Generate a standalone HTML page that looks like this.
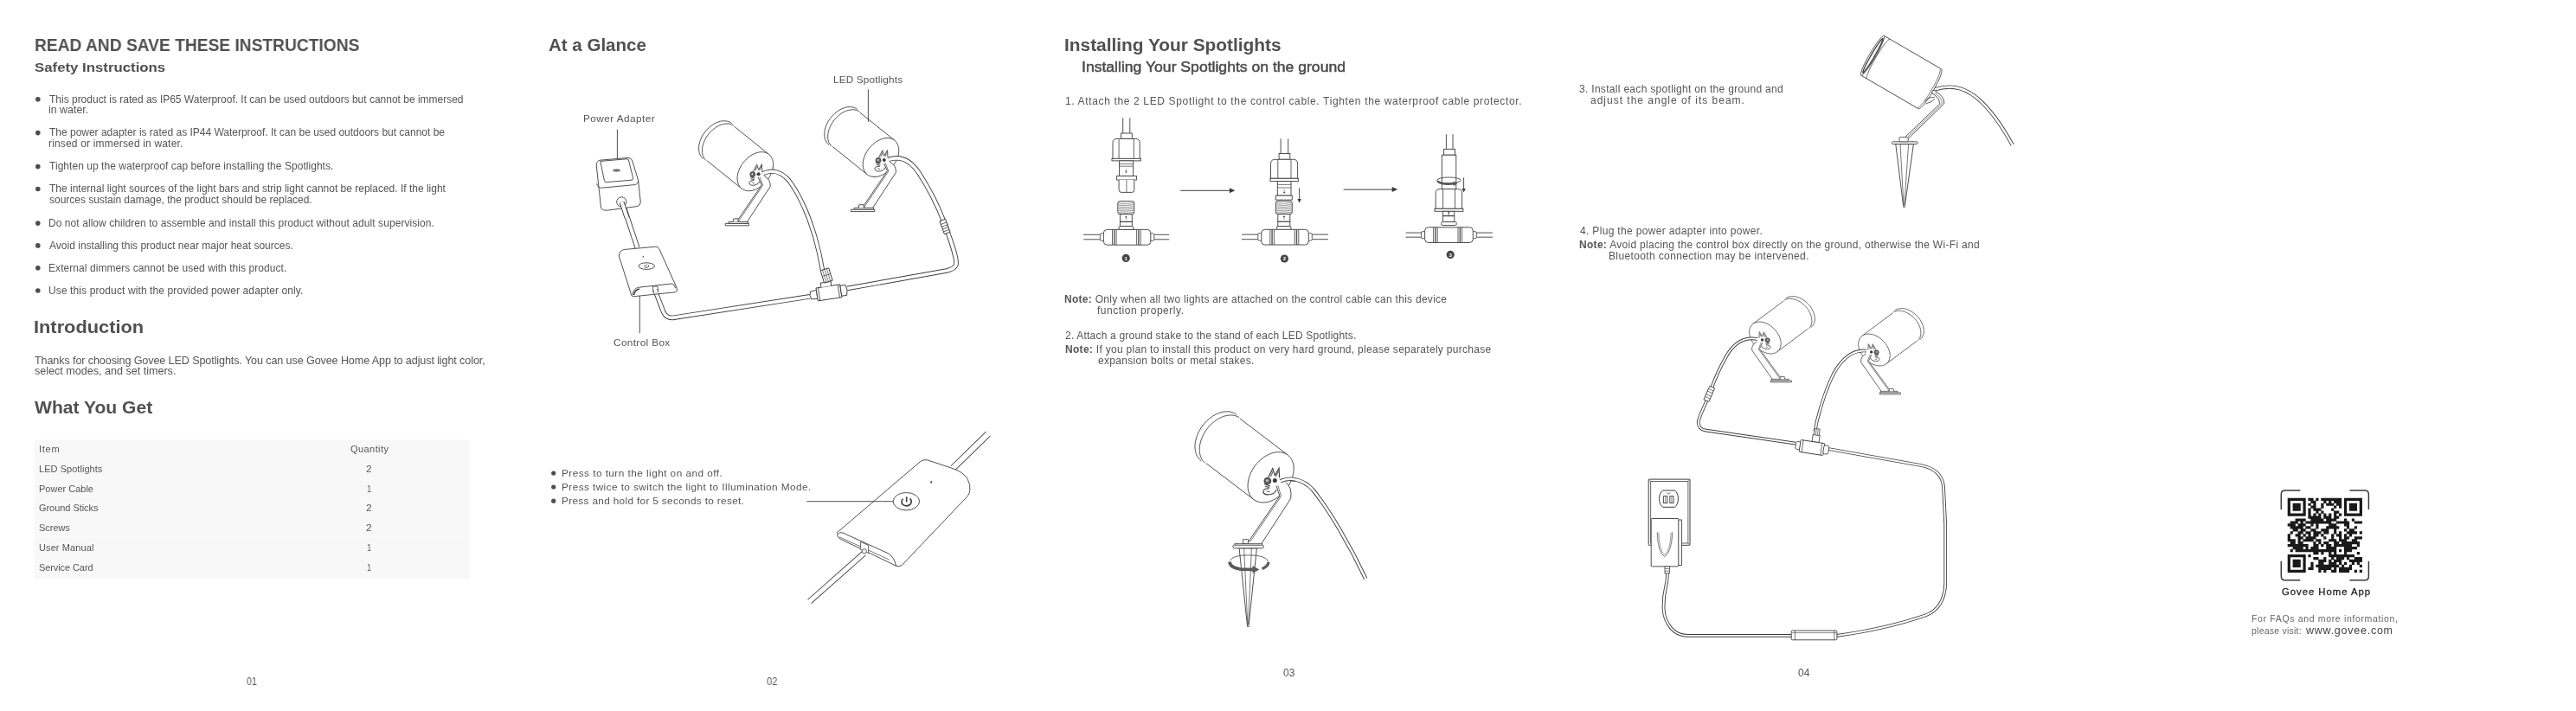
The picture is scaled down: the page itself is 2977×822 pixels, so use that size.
<!DOCTYPE html>
<html><head><meta charset="utf-8"><style>
html,body{margin:0;padding:0;background:#fff;}
body{width:2977px;height:822px;position:relative;overflow:hidden;font-family:"Liberation Sans", sans-serif;}
.t{position:absolute;white-space:nowrap;line-height:0;will-change:transform;}
.t b{font-weight:700;}
#p3h2{-webkit-text-stroke:0.45px currentColor;}#qr1{-webkit-text-stroke:0.3px currentColor;}
svg{position:absolute;left:0;top:0;}
</style></head><body>

<svg width="2977" height="822" viewBox="0 0 2977 822"><circle cx="43.8" cy="114.8" r="2.8" fill="#4d4d4d"/><circle cx="43.8" cy="153.6" r="2.8" fill="#4d4d4d"/><circle cx="43.8" cy="192.6" r="2.8" fill="#4d4d4d"/><circle cx="43.8" cy="218.5" r="2.8" fill="#4d4d4d"/><circle cx="43.8" cy="258.1" r="2.8" fill="#4d4d4d"/><circle cx="43.8" cy="283.9" r="2.8" fill="#4d4d4d"/><circle cx="43.8" cy="309.8" r="2.8" fill="#4d4d4d"/><circle cx="43.8" cy="336.0" r="2.8" fill="#4d4d4d"/><rect x="39.6" y="508.4" width="503.0" height="160.6" rx="2" fill="#f8f8f8"/><rect x="39.6" y="529.4" width="503" height="1.0" fill="#fbfbfb"/><rect x="39.6" y="552.2" width="503" height="1.0" fill="#fbfbfb"/><rect x="39.6" y="574.9" width="503" height="1.0" fill="#fbfbfb"/><rect x="39.6" y="597.3" width="503" height="1.0" fill="#fbfbfb"/><rect x="39.6" y="620.3" width="503" height="1.0" fill="#fbfbfb"/><rect x="39.6" y="642.8" width="503" height="1.0" fill="#fbfbfb"/><g id="spA"><path d="M845.6,142.6 L844.5,141.8 L843.3,141.1 L841.9,140.6 L840.5,140.2 L839.0,139.9 L837.5,139.8 L835.9,139.8 L834.3,139.9 L832.6,140.2 L830.9,140.7 L829.3,141.3 L827.6,142.0 L825.9,142.8 L824.2,143.8 L822.6,144.9 L821.0,146.1 L819.4,147.4 L818.0,148.8 L816.5,150.3 L815.2,151.9 L814.0,153.5 L812.8,155.2 L811.7,157.0 L810.8,158.8 L810.0,160.6 L809.2,162.4 L808.7,164.3 L808.2,166.1 L807.8,167.9 L807.6,169.7 L807.6,171.4 L807.6,173.1 L807.8,174.7 L808.1,176.3 L808.6,177.8 L809.2,179.1 L809.9,180.4 L810.7,181.6 L811.6,182.7 L812.7,183.6 L856.9,217.9 L856.9,217.9 L858.0,218.7 L859.2,219.4 L860.5,219.9 L861.9,220.3 L863.3,220.5 L864.8,220.7 L866.3,220.6 L867.9,220.5 L869.5,220.2 L871.1,219.8 L872.7,219.2 L874.3,218.5 L875.9,217.7 L877.5,216.8 L879.1,215.7 L880.6,214.5 L882.1,213.3 L883.6,211.9 L884.9,210.5 L886.2,209.0 L887.4,207.4 L888.5,205.8 L889.5,204.1 L890.4,202.4 L891.3,200.6 L891.9,198.9 L892.5,197.1 L893.0,195.3 L893.3,193.6 L893.5,191.9 L893.6,190.2 L893.5,188.6 L893.3,187.0 L893.0,185.5 L892.6,184.1 L892.0,182.8 L891.3,181.5 L890.6,180.4 L889.7,179.4 L888.7,178.5 L848.5,146.2Z" fill="#fff" stroke="none" stroke-width="0.9" /><path d="M845.6,142.6 L844.5,141.8 L843.3,141.1 L841.9,140.6 L840.5,140.2 L839.0,139.9 L837.5,139.8 L835.9,139.8 L834.3,139.9 L832.6,140.2 L830.9,140.7 L829.3,141.3 L827.6,142.0 L825.9,142.8 L824.2,143.8 L822.6,144.9 L821.0,146.1 L819.4,147.4 L818.0,148.8 L816.5,150.3 L815.2,151.9 L814.0,153.5 L812.8,155.2 L811.7,157.0 L810.8,158.8 L810.0,160.6 L809.2,162.4 L808.7,164.3 L808.2,166.1 L807.8,167.9 L807.6,169.7 L807.6,171.4 L807.6,173.1 L807.8,174.7 L808.1,176.3 L808.6,177.8 L809.2,179.1 L809.9,180.4 L810.7,181.6 L811.6,182.7 L812.7,183.6" fill="none" stroke="#3c3c3c" stroke-width="0.9" /><path d="M847.9,145.2 L846.8,144.5 L845.6,143.9 L844.3,143.5 L842.9,143.2 L841.5,143.0 L840.0,143.0 L838.5,143.1 L836.9,143.3 L835.3,143.7 L833.7,144.1 L832.1,144.7 L830.5,145.4 L829.0,146.3 L827.4,147.2 L825.9,148.3 L824.4,149.4 L822.9,150.7 L821.5,152.0 L820.2,153.4 L818.9,154.9 L817.8,156.4 L816.7,158.0 L815.7,159.7 L814.8,161.4 L814.0,163.1 L813.3,164.8 L812.7,166.5 L812.2,168.3 L811.8,170.0 L811.6,171.7 L811.5,173.3 L811.5,174.9 L811.6,176.5 L811.8,178.0 L812.2,179.4 L812.7,180.8 L813.3,182.1 L814.0,183.2 L814.8,184.3 L815.7,185.3" fill="none" stroke="#3c3c3c" stroke-width="0.9" /><path d="M848.5,146.2 L888.7,178.5" fill="none" stroke="#3c3c3c" stroke-width="0.9" /><path d="M816.8,185.6 L856.9,217.9" fill="none" stroke="#3c3c3c" stroke-width="0.9" /><path d="M856.9,217.9 L858.4,218.9 L860.1,219.7 L861.9,220.3 L863.8,220.6 L865.8,220.7 L867.9,220.5 L870.0,220.1 L872.2,219.4 L874.3,218.5 L876.5,217.4 L878.6,216.1 L880.6,214.5 L882.6,212.8 L884.5,211.0 L886.2,209.0 L887.8,206.9 L889.2,204.6 L890.4,202.4 L891.5,200.0 L892.3,197.7 L893.0,195.3 L893.4,193.0 L893.6,190.8 L893.5,188.6 L893.2,186.5 L892.7,184.6 L892.0,182.8 L891.1,181.2 L890.0,179.7 L888.7,178.5 L887.2,177.5 L885.5,176.7 L883.7,176.1 L881.8,175.8 L879.8,175.7 L877.7,175.9 L875.6,176.3 L873.4,177.0 L871.3,177.9 L869.1,179.0 L867.0,180.3 L865.0,181.9 L863.0,183.6 L861.1,185.4 L859.4,187.4 L857.8,189.5 L856.4,191.8 L855.2,194.0 L854.1,196.4 L853.3,198.7 L852.6,201.1 L852.2,203.4 L852.0,205.6 L852.1,207.8 L852.4,209.9 L852.9,211.8 L853.6,213.6 L854.5,215.2 L855.6,216.7 L856.9,217.9Z" fill="#fff" stroke="#3c3c3c" stroke-width="0.9" /><path d="M876.3,205.0 L880.2,214.0 L850.6,257.4 L862.6,257.8 L890.2,215.6 Q890.8,207.5 883.4,203.6 Z" fill="#fff" stroke="none" stroke-width="0.9" /><path d="M883.4,203.6 Q890.8,207.5 890.2,215.6 L862.6,257.8" fill="none" stroke="#3c3c3c" stroke-width="0.9" /><path d="M876.3,205.0 L880.2,214.0 L850.6,257.4" fill="none" stroke="#3c3c3c" stroke-width="0.9" /><path d="M878.0,204.6 L881.6,214.2 L852.4,257.4" fill="none" stroke="#3c3c3c" stroke-width="0.7" /><path d="M838.2,258.4 L865.6,258.4 L865.6,260.8 L838.2,260.8 Z" fill="#fff" stroke="#3c3c3c" stroke-width="0.9" /><path d="M842.0,256.5 L864.4,256.5 L864.4,258.4 L842.0,258.4 Z" fill="#fff" stroke="#3c3c3c" stroke-width="0.9" /><path d="M847.0,256.5 L847.6,253.0 L852.6,252.8 L853.4,256.5" fill="#fff" stroke="#3c3c3c" stroke-width="0.9" /><path d="M870.6,198.0 L874.6,190.0 L876.6,196.4 L880.4,189.8 L880.8,198.6" fill="none" stroke="#3c3c3c" stroke-width="0.9" /><path d="M872.6,197.6 L875.0,192.4 M877.6,197.0 L880.0,192.2" fill="none" stroke="#777" stroke-width="1.2" /><circle cx="869.8" cy="201.6" r="3.0" fill="#666" stroke="#3c3c3c" stroke-width="0.9"/><circle cx="869.4" cy="201.2" r="1.0" fill="#ddd"/><path d="M866.8,204.4 L872.4,206.4 M867.6,206.6 L871.6,207.6" fill="none" stroke="#3c3c3c" stroke-width="0.9" /><circle cx="876.6" cy="201.2" r="2.0" fill="#3c3c3c"/><path d="M871.6,208.6 Q865.6,208.2 865.8,212.0 Q866.8,215.0 872.6,214.0 Q877.0,212.8 878.0,209.6" fill="none" stroke="#3c3c3c" stroke-width="0.9" /><path d="M868.6,210.2 Q869.6,212.4 872.0,211.6" fill="none" stroke="#3c3c3c" stroke-width="0.7" /></g><use href="#spA" transform="translate(145.2,-16.2)"/><path d="M713.4,149.7 L713.4,187.4" fill="none" stroke="#3c3c3c" stroke-width="0.9" /><path d="M1003.4,103.4 L1003.4,141.0" fill="none" stroke="#3c3c3c" stroke-width="0.9" /><path d="M739.3,337.9 L739.3,385.1" fill="none" stroke="#3c3c3c" stroke-width="0.9" /><path d="M881.8,200.6 C892,196 903,198 912,209 C925,226 939,258 946.5,292 L950.5,312" fill="none" stroke="#3c3c3c" stroke-width="5.300000000000001" stroke-linecap="butt" stroke-linejoin="round"/><path d="M881.8,200.6 C892,196 903,198 912,209 C925,226 939,258 946.5,292 L950.5,312" fill="none" stroke="#fff" stroke-width="3.5000000000000004" stroke-linecap="butt" stroke-linejoin="round"/><path d="M1027.0,184.4 C1040,180 1052,185 1062,200 C1075,220 1087,245 1094,265 C1100,282 1106,298 1105,306 Q1103,311 1094,313 L979,333.5" fill="none" stroke="#3c3c3c" stroke-width="5.5" stroke-linecap="butt" stroke-linejoin="round"/><path d="M1027.0,184.4 C1040,180 1052,185 1062,200 C1075,220 1087,245 1094,265 C1100,282 1106,298 1105,306 Q1103,311 1094,313 L979,333.5" fill="none" stroke="#fff" stroke-width="3.6999999999999997" stroke-linecap="butt" stroke-linejoin="round"/><path d="M757.2,336.0 L766.8,361.0 Q770.5,368.5 779,367.2 L936,342.8" fill="none" stroke="#3c3c3c" stroke-width="5.5" stroke-linecap="butt" stroke-linejoin="round"/><path d="M757.2,336.0 L766.8,361.0 Q770.5,368.5 779,367.2 L936,342.8" fill="none" stroke="#fff" stroke-width="3.6999999999999997" stroke-linecap="butt" stroke-linejoin="round"/><path d="M719.8,236.0 L736.6,286.5" fill="none" stroke="#3c3c3c" stroke-width="5.9" stroke-linecap="butt" stroke-linejoin="round"/><path d="M719.8,236.0 L736.6,286.5" fill="none" stroke="#fff" stroke-width="4.1" stroke-linecap="butt" stroke-linejoin="round"/><g transform="rotate(70,1092,262)"><path d="M1084,258.5 L1100,258.5 L1100,265.5 L1084,265.5 Z" fill="#fff" stroke="#3c3c3c" stroke-width="0.9" /><path d="M1088,258.5 L1088,265.5 M1091,258 L1091,266 M1094,258 L1094,266 M1097,258.5 L1097,265.5" fill="none" stroke="#3c3c3c" stroke-width="0.7" /></g><g transform="rotate(-8.6,957,338.5)"><path d="M937,334 Q934.5,338.5 937,343 L944,343.5 L944,333.5 Z" fill="#fff" stroke="#3c3c3c" stroke-width="0.9" /><path d="M944,331 L972,331 L972,346 L944,346 Z" fill="#fff" stroke="#3c3c3c" stroke-width="0.9" /><path d="M946.5,331 L946.5,346 M969.5,331 L969.5,346" fill="none" stroke="#3c3c3c" stroke-width="0.8" /><path d="M972,332.5 L978,332.5 Q980.5,338.5 978,344.5 L972,344.5 Z" fill="#fff" stroke="#3c3c3c" stroke-width="0.9" /><path d="M950,331 L950,326 L962,326 L962,331" fill="#fff" stroke="#3c3c3c" stroke-width="0.9" /></g><g transform="rotate(-17,955,318)"><path d="M950,311 L960,311 L960,326 L950,326 Z" fill="#fff" stroke="#3c3c3c" stroke-width="0.9" /><path d="M952.5,311 L952.5,326 M955,311 L955,326 M957.5,311 L957.5,326 M950,318 L960,318" fill="none" stroke="#3c3c3c" stroke-width="0.6" /></g><path d="M689.2,191 Q689.5,186 693.5,185.2 L726.1,182.4 Q729.8,182.6 730.8,186 L737.6,208.5 L740.3,233.8 Q740,237.6 736.3,238.6 L702.5,243.1 Q696.2,243.6 694.6,240.5 Z" fill="#fff" stroke="#3c3c3c" stroke-width="0.9" /><path d="M689.6,212.2 Q690.6,217.4 695.5,217.2 L733.5,213.6 Q737.8,212.6 737.6,208.5" fill="none" stroke="#3c3c3c" stroke-width="0.9" /><path d="M693.8,186.4 L698.4,208.6 Q698.8,210.8 701.2,210.6 L730.0,208.2 Q732.0,207.8 731.6,205.6 L726.4,185.0 Q725.8,183.6 724.0,183.8 Z" fill="none" stroke="#3c3c3c" stroke-width="0.9" /><ellipse cx="712.6" cy="197.0" rx="4.4" ry="1.7" fill="#777"/><circle cx="718.3" cy="233.4" r="5.6" fill="#fff" stroke="#3c3c3c" stroke-width="0.9"/><path d="M718.6,233.8 L724.5,251.5" fill="none" stroke="#3c3c3c" stroke-width="5.9" stroke-linecap="butt" stroke-linejoin="round"/><path d="M718.6,233.8 L724.5,251.5" fill="none" stroke="#fff" stroke-width="4.1" stroke-linecap="butt" stroke-linejoin="round"/><path d="M715.3,296.0 Q715.6,289.2 722.2,288.4 L757.8,285.2 Q760.8,285.0 761.8,287.8 L782.4,333.4 Q783.2,337.2 780.4,337.8 L731.8,342.8 Q730.4,342.9 729.9,341.6 Z" fill="#fff" stroke="#3c3c3c" stroke-width="0.9" /><path d="M731.0,341.6 Q731.6,333.4 738.5,332.2 L776.6,328.0 Q779.6,328.4 780.8,333.4" fill="none" stroke="#3c3c3c" stroke-width="0.9" /><path d="M732.6,341.0 Q733.4,335.2 739.0,334.0" fill="none" stroke="#3c3c3c" stroke-width="1.4" /><ellipse cx="747.2" cy="307.6" rx="9.2" ry="3.8" fill="none" stroke="#3c3c3c" stroke-width="0.9"/><path d="M745.0,306.4 Q743.6,308.8 747.2,309.6 Q750.8,308.8 749.4,306.4 M747.2,305.4 L747.2,307.8" fill="none" stroke="#3c3c3c" stroke-width="0.8" /><circle cx="743.3" cy="296.7" r="0.8" fill="#3c3c3c"/><path d="M754.2,331.4 L760.0,330.8 L760.6,337.0 L754.8,337.6 Z" fill="#fff" stroke="#3c3c3c" stroke-width="0.8" /><path d="M757.2,335.0 L758.6,338.8" fill="none" stroke="#3c3c3c" stroke-width="6.1000000000000005" stroke-linecap="butt" stroke-linejoin="round"/><path d="M757.2,335.0 L758.6,338.8" fill="none" stroke="#fff" stroke-width="4.3" stroke-linecap="butt" stroke-linejoin="round"/><path d="M1101.5,541 L1142,501.5" fill="none" stroke="#3c3c3c" stroke-width="7.9" stroke-linecap="butt" stroke-linejoin="round"/><path d="M1101.5,541 L1142,501.5" fill="none" stroke="#fff" stroke-width="6.1" stroke-linecap="square" stroke-linejoin="round"/><path d="M935.5,695.5 L998.6,639.5" fill="none" stroke="#3c3c3c" stroke-width="6.9" stroke-linecap="butt" stroke-linejoin="round"/><path d="M935.5,695.5 L998.6,639.5" fill="none" stroke="#fff" stroke-width="5.1" stroke-linecap="square" stroke-linejoin="round"/><path d="M967.9,615.3 L1063.6,533.6 Q1066.8,531.0 1071.6,531.8 L1100.0,541.2 Q1113.5,545.8 1118.0,553.5 Q1122.0,560.5 1120.8,567.4 Q1120.4,571.0 1118.0,573.8 L1042.2,653.6 Q1039.0,655.8 1035.6,654.2 L971.2,623.2 Q966.6,620.4 967.9,615.3 Z" fill="#fff" stroke="#3c3c3c" stroke-width="0.9" /><path d="M968.6,617.6 Q970.4,614.6 974.0,616.0 L1026.0,639.6 Q1033.6,643.6 1035.6,654.2" fill="none" stroke="#3c3c3c" stroke-width="0.9" /><path d="M970.0,620.8 L1027.6,647.0" fill="none" stroke="#3c3c3c" stroke-width="0.7" /><path d="M994.6,626.4 L1003.6,630.6 L1003.6,639.6 L994.6,635.4 Z" fill="#fff" stroke="#3c3c3c" stroke-width="0.8" /><circle cx="998.8" cy="637.2" r="2.6" fill="#fff" stroke="#3c3c3c" stroke-width="0.8"/><ellipse cx="1047.4" cy="579.7" rx="15.2" ry="10.2" fill="#fff" stroke="#3c3c3c" stroke-width="0.9"/><path d="M1043.6,576.8 Q1040.2,580.6 1043.8,583.6 Q1048.4,586.4 1052.2,582.8 Q1054.6,579.4 1051.6,576.4 M1047.8,574.2 L1047.6,580.4" fill="none" stroke="#3c3c3c" stroke-width="1.6" /><circle cx="1076.2" cy="557.4" r="1.1" fill="#3c3c3c"/><path d="M932.4,579.7 L1032.2,579.7" fill="none" stroke="#3c3c3c" stroke-width="0.9" /><circle cx="639.7" cy="547.1" r="2.6" fill="#4d4d4d"/><circle cx="639.7" cy="563.0" r="2.6" fill="#4d4d4d"/><circle cx="639.7" cy="579.2" r="2.6" fill="#4d4d4d"/><path d="M1297.7,136.3 L1297.7,154.5 M1305.8,136.3 L1305.8,154.5" fill="none" stroke="#3c3c3c" stroke-width="0.9" /><rect x="1295.6" y="154.0" width="12.7" height="6.4" rx="0" fill="#fff" stroke="#3c3c3c" stroke-width="0.9"/><path d="M1286.0,183.5 L1286.0,165.4 Q1286.0,160.4 1291.0,160.4 L1312.2,160.4 Q1317.2,160.4 1317.2,165.4 L1317.2,183.5 Z" fill="#fff" stroke="#3c3c3c" stroke-width="0.9" /><line x1="1293.1" y1="160.4" x2="1293.1" y2="183.5" stroke="#3c3c3c" stroke-width="0.8"/><line x1="1310.3" y1="160.4" x2="1310.3" y2="183.5" stroke="#3c3c3c" stroke-width="0.8"/><rect x="1285.0" y="183.3" width="33.4" height="2.6" rx="0" fill="#fff" stroke="#3c3c3c" stroke-width="0.9"/><rect x="1293.6" y="185.9" width="16.0" height="17.5" rx="0" fill="#fff" stroke="#3c3c3c" stroke-width="0.9"/><line x1="1293.6" y1="189.6" x2="1309.6" y2="189.6" stroke="#3c3c3c" stroke-width="0.7"/><line x1="1293.6" y1="192.2" x2="1309.6" y2="192.2" stroke="#3c3c3c" stroke-width="0.7"/><line x1="1301.4" y1="195.4" x2="1301.4" y2="199.1" stroke="#3c3c3c" stroke-width="0.6"/><path d="M1300.1,198.2 L1302.7,198.2 L1301.4,200.0 Z" fill="#3c3c3c" stroke="none" stroke-width="0.9" /><rect x="1290.6" y="203.4" width="22.8" height="4.6" rx="0" fill="#fff" stroke="#3c3c3c" stroke-width="0.9"/><path d="M1293.1,208 L1293.1,219.5 Q1293.1,222.4 1296,222.4 L1308,222.4 Q1310.8,222.4 1310.8,219.5 L1310.8,208" fill="#fff" stroke="#3c3c3c" stroke-width="0.9" /><line x1="1301.9" y1="208.0" x2="1301.9" y2="222.4" stroke="#3c3c3c" stroke-width="0.7"/><rect x="1291.8" y="232.5" width="19.0" height="15.2" rx="2.5" fill="#fff" stroke="#3c3c3c" stroke-width="0.9"/><path d="M1292.3,234.8 Q1301.3,236.0 1310.3,234.4" fill="none" stroke="#3c3c3c" stroke-width="0.6" /><path d="M1292.3,237.0 Q1301.3,238.2 1310.3,236.6" fill="none" stroke="#3c3c3c" stroke-width="0.6" /><path d="M1292.3,239.2 Q1301.3,240.4 1310.3,238.8" fill="none" stroke="#3c3c3c" stroke-width="0.6" /><path d="M1292.3,241.4 Q1301.3,242.6 1310.3,241.0" fill="none" stroke="#3c3c3c" stroke-width="0.6" /><path d="M1292.3,243.6 Q1301.3,244.8 1310.3,243.2" fill="none" stroke="#3c3c3c" stroke-width="0.6" /><path d="M1292.3,245.8 Q1301.3,247.0 1310.3,245.4" fill="none" stroke="#3c3c3c" stroke-width="0.6" /><rect x="1294.4" y="247.7" width="13.9" height="13.9" rx="0" fill="#fff" stroke="#3c3c3c" stroke-width="0.9"/><line x1="1294.4" y1="256.4" x2="1308.3" y2="256.4" stroke="#3c3c3c" stroke-width="1.2"/><line x1="1301.4" y1="250.3" x2="1301.4" y2="254.0" stroke="#3c3c3c" stroke-width="0.6"/><path d="M1300.1,251.2 L1302.7,251.2 L1301.4,249.4 Z" fill="#3c3c3c" stroke="none" stroke-width="0.9" /><rect x="1293.0" y="261.6" width="17.0" height="4.0" rx="1.5" fill="#fff" stroke="#3c3c3c" stroke-width="0.9"/><path d="M1252.1,271.3 L1275.4,271.3 M1252.1,276.8 L1275.4,276.8 M1329.8,271.3 L1351.3,271.3 M1329.8,276.8 L1351.3,276.8" fill="none" stroke="#3c3c3c" stroke-width="0.9" /><rect x="1271.4" y="269.8" width="6.0" height="8.5" rx="1.5" fill="#fff" stroke="#3c3c3c" stroke-width="0.8"/><rect x="1327.8" y="269.8" width="6.0" height="8.5" rx="1.5" fill="#fff" stroke="#3c3c3c" stroke-width="0.8"/><rect x="1275.4" y="265.4" width="54.4" height="17.8" rx="4" fill="#fff" stroke="#3c3c3c" stroke-width="0.9"/><line x1="1285.5" y1="265.4" x2="1285.5" y2="283.2" stroke="#3c3c3c" stroke-width="0.8"/><line x1="1290.1" y1="265.4" x2="1290.1" y2="283.2" stroke="#3c3c3c" stroke-width="0.8"/><rect x="1287.1" y="265.4" width="1.4" height="17.8" rx="0" fill="#555" stroke="#3c3c3c" stroke-width="0"/><line x1="1313.6" y1="265.4" x2="1313.6" y2="283.2" stroke="#3c3c3c" stroke-width="0.8"/><line x1="1318.2" y1="265.4" x2="1318.2" y2="283.2" stroke="#3c3c3c" stroke-width="0.8"/><rect x="1315.2" y="265.4" width="1.4" height="17.8" rx="0" fill="#555" stroke="#3c3c3c" stroke-width="0"/><circle cx="1301.2" cy="298.4" r="4.6" fill="#454545"/><text x="1301.2" y="300.6" font-size="6" font-family="Liberation Sans" font-weight="700" fill="#fff" text-anchor="middle">1</text><path d="M1480.1,160.3 L1480.1,177.8 M1488.7,160.3 L1488.7,177.8" fill="none" stroke="#3c3c3c" stroke-width="0.9" /><rect x="1478.1" y="177.5" width="12.7" height="6.8" rx="0" fill="#fff" stroke="#3c3c3c" stroke-width="0.9"/><path d="M1468.5,206.3 L1468.5,189.3 Q1468.5,184.3 1473.5,184.3 L1494.6,184.3 Q1499.6,184.3 1499.6,189.3 L1499.6,206.3 Z" fill="#fff" stroke="#3c3c3c" stroke-width="0.9" /><line x1="1476.8" y1="184.3" x2="1476.8" y2="206.3" stroke="#3c3c3c" stroke-width="0.8"/><line x1="1492.0" y1="184.3" x2="1492.0" y2="206.3" stroke="#3c3c3c" stroke-width="0.8"/><rect x="1468.0" y="206.3" width="32.4" height="3.3" rx="0" fill="#fff" stroke="#3c3c3c" stroke-width="0.9"/><rect x="1476.3" y="209.6" width="15.7" height="16.5" rx="0" fill="#fff" stroke="#3c3c3c" stroke-width="0.9"/><line x1="1476.3" y1="213.4" x2="1492.0" y2="213.4" stroke="#3c3c3c" stroke-width="0.7"/><line x1="1476.3" y1="217.0" x2="1492.0" y2="217.0" stroke="#3c3c3c" stroke-width="0.7"/><line x1="1484.2" y1="219.2" x2="1484.2" y2="222.9" stroke="#3c3c3c" stroke-width="0.6"/><path d="M1482.9,222.0 L1485.5,222.0 L1484.2,223.8 Z" fill="#3c3c3c" stroke="none" stroke-width="0.9" /><rect x="1474.3" y="226.1" width="19.0" height="5.0" rx="0" fill="#fff" stroke="#3c3c3c" stroke-width="0.9"/><rect x="1474.3" y="232.4" width="19.0" height="15.2" rx="2.5" fill="#fff" stroke="#3c3c3c" stroke-width="0.9"/><path d="M1474.8,234.7 Q1483.8,235.9 1492.8,234.3" fill="none" stroke="#3c3c3c" stroke-width="0.6" /><path d="M1474.8,236.9 Q1483.8,238.1 1492.8,236.5" fill="none" stroke="#3c3c3c" stroke-width="0.6" /><path d="M1474.8,239.1 Q1483.8,240.3 1492.8,238.7" fill="none" stroke="#3c3c3c" stroke-width="0.6" /><path d="M1474.8,241.3 Q1483.8,242.5 1492.8,240.9" fill="none" stroke="#3c3c3c" stroke-width="0.6" /><path d="M1474.8,243.5 Q1483.8,244.7 1492.8,243.1" fill="none" stroke="#3c3c3c" stroke-width="0.6" /><path d="M1474.8,245.7 Q1483.8,246.9 1492.8,245.3" fill="none" stroke="#3c3c3c" stroke-width="0.6" /><rect x="1476.8" y="247.6" width="14.0" height="13.9" rx="0" fill="#fff" stroke="#3c3c3c" stroke-width="0.9"/><line x1="1476.8" y1="256.2" x2="1490.8" y2="256.2" stroke="#3c3c3c" stroke-width="1.2"/><line x1="1484.0" y1="250.1" x2="1484.0" y2="253.8" stroke="#3c3c3c" stroke-width="0.6"/><path d="M1482.7,251.0 L1485.3,251.0 L1484.0,249.2 Z" fill="#3c3c3c" stroke="none" stroke-width="0.9" /><rect x="1475.6" y="261.5" width="16.4" height="4.0" rx="1.5" fill="#fff" stroke="#3c3c3c" stroke-width="0.9"/><path d="M1435.0,271.1 L1457.8,271.1 M1435.0,276.7 L1457.8,276.7 M1512.3,271.1 L1535.0,271.1 M1512.3,276.7 L1535.0,276.7" fill="none" stroke="#3c3c3c" stroke-width="0.9" /><rect x="1453.8" y="269.6" width="6.0" height="8.6" rx="1.5" fill="#fff" stroke="#3c3c3c" stroke-width="0.8"/><rect x="1510.3" y="269.6" width="6.0" height="8.6" rx="1.5" fill="#fff" stroke="#3c3c3c" stroke-width="0.8"/><rect x="1457.8" y="265.3" width="54.5" height="17.7" rx="4" fill="#fff" stroke="#3c3c3c" stroke-width="0.9"/><line x1="1467.8" y1="265.3" x2="1467.8" y2="283.0" stroke="#3c3c3c" stroke-width="0.8"/><line x1="1472.4" y1="265.3" x2="1472.4" y2="283.0" stroke="#3c3c3c" stroke-width="0.8"/><rect x="1469.4" y="265.3" width="1.4" height="17.7" rx="0" fill="#555" stroke="#3c3c3c" stroke-width="0"/><line x1="1496.2" y1="265.3" x2="1496.2" y2="283.0" stroke="#3c3c3c" stroke-width="0.8"/><line x1="1500.8" y1="265.3" x2="1500.8" y2="283.0" stroke="#3c3c3c" stroke-width="0.8"/><rect x="1497.8" y="265.3" width="1.4" height="17.7" rx="0" fill="#555" stroke="#3c3c3c" stroke-width="0"/><line x1="1501.6" y1="217.2" x2="1501.6" y2="231.1" stroke="#3c3c3c" stroke-width="0.9"/><path d="M1499.4,230.1 L1503.8,230.1 L1501.6,234.6 Z" fill="#3c3c3c" stroke="none" stroke-width="0.9" /><circle cx="1484.4" cy="299.0" r="4.6" fill="#454545"/><text x="1484.4" y="301.2" font-size="6" font-family="Liberation Sans" font-weight="700" fill="#fff" text-anchor="middle">2</text><path d="M1671.4,155.2 L1671.4,172.8 M1679.0,155.2 L1679.0,172.8" fill="none" stroke="#3c3c3c" stroke-width="0.9" /><rect x="1668.6" y="172.4" width="12.9" height="6.8" rx="0" fill="#fff" stroke="#3c3c3c" stroke-width="0.9"/><rect x="1666.3" y="179.2" width="16.5" height="39.3" rx="0" fill="#fff" stroke="#3c3c3c" stroke-width="0.9"/><path d="M1659.2,241.3 L1659.2,223.5 Q1659.2,218.5 1664.2,218.5 L1684.6,218.5 Q1689.6,218.5 1689.6,223.5 L1689.6,241.3 Z" fill="#fff" stroke="#3c3c3c" stroke-width="0.9" /><line x1="1667.6" y1="218.5" x2="1667.6" y2="241.3" stroke="#3c3c3c" stroke-width="0.8"/><line x1="1681.5" y1="218.5" x2="1681.5" y2="241.3" stroke="#3c3c3c" stroke-width="0.8"/><rect x="1658.0" y="241.3" width="32.9" height="3.0" rx="0" fill="#fff" stroke="#3c3c3c" stroke-width="0.9"/><rect x="1667.6" y="244.3" width="13.2" height="12.2" rx="0" fill="#fff" stroke="#3c3c3c" stroke-width="0.9"/><line x1="1667.6" y1="249.6" x2="1680.8" y2="249.6" stroke="#3c3c3c" stroke-width="1.2"/><line x1="1674.2" y1="245.5" x2="1674.2" y2="249.2" stroke="#3c3c3c" stroke-width="0.6"/><path d="M1672.9,246.4 L1675.5,246.4 L1674.2,244.6 Z" fill="#3c3c3c" stroke="none" stroke-width="0.9" /><rect x="1665.6" y="256.5" width="17.7" height="4.0" rx="1.8" fill="#fff" stroke="#3c3c3c" stroke-width="0.9"/><path d="M1624.6,269.1 L1646.6,269.1 M1624.6,274.2 L1646.6,274.2 M1702.3,269.1 L1725.0,269.1 M1702.3,274.2 L1725.0,274.2" fill="none" stroke="#3c3c3c" stroke-width="0.9" /><rect x="1642.6" y="267.6" width="6.0" height="8.1" rx="1.5" fill="#fff" stroke="#3c3c3c" stroke-width="0.8"/><rect x="1700.3" y="267.6" width="6.0" height="8.1" rx="1.5" fill="#fff" stroke="#3c3c3c" stroke-width="0.8"/><rect x="1646.6" y="262.8" width="55.7" height="17.7" rx="4" fill="#fff" stroke="#3c3c3c" stroke-width="0.9"/><line x1="1656.6" y1="262.8" x2="1656.6" y2="280.5" stroke="#3c3c3c" stroke-width="0.8"/><line x1="1661.2" y1="262.8" x2="1661.2" y2="280.5" stroke="#3c3c3c" stroke-width="0.8"/><rect x="1658.2" y="262.8" width="1.4" height="17.7" rx="0" fill="#555" stroke="#3c3c3c" stroke-width="0"/><line x1="1685.0" y1="262.8" x2="1685.0" y2="280.5" stroke="#3c3c3c" stroke-width="0.8"/><line x1="1689.6" y1="262.8" x2="1689.6" y2="280.5" stroke="#3c3c3c" stroke-width="0.8"/><rect x="1686.6" y="262.8" width="1.4" height="17.7" rx="0" fill="#555" stroke="#3c3c3c" stroke-width="0"/><ellipse cx="1674.4" cy="208.4" rx="13.6" ry="3.4" fill="none" stroke="#555" stroke-width="1.0"/><path d="M1661.0,209.2 Q1664,212.6 1674,212.8 L1680,212.4" fill="none" stroke="#555" stroke-width="2.4" /><path d="M1679.5,209.6 L1684.5,212.2 L1679.5,215.0 Z" fill="#555" stroke="none" stroke-width="0.9" /><line x1="1691.6" y1="205.3" x2="1691.6" y2="219.1" stroke="#3c3c3c" stroke-width="0.9"/><path d="M1689.4,218.1 L1693.8,218.1 L1691.6,222.6 Z" fill="#3c3c3c" stroke="none" stroke-width="0.9" /><circle cx="1676.2" cy="294.4" r="4.6" fill="#454545"/><text x="1676.2" y="296.6" font-size="6" font-family="Liberation Sans" font-weight="700" fill="#fff" text-anchor="middle">3</text><line x1="1364.2" y1="220.3" x2="1422.4" y2="220.3" stroke="#3c3c3c" stroke-width="1.0"/><path d="M1420.9,217.3 L1427.4,220.3 L1420.9,223.3 Z" fill="#3c3c3c" stroke="none" stroke-width="0.9" /><line x1="1552.6" y1="219.1" x2="1610.2" y2="219.1" stroke="#3c3c3c" stroke-width="1.0"/><path d="M1608.7,216.1 L1615.2,219.1 L1608.7,222.1 Z" fill="#3c3c3c" stroke="none" stroke-width="0.9" /><path d="M1479.6,556.2 C1490,552 1505,553 1517,566 C1535,588 1560,630 1578.3,669.2" fill="none" stroke="#3c3c3c" stroke-width="4.5" stroke-linecap="butt" stroke-linejoin="round"/><path d="M1479.6,556.2 C1490,552 1505,553 1517,566 C1535,588 1560,630 1578.3,669.2" fill="none" stroke="#fff" stroke-width="2.7" stroke-linecap="square" stroke-linejoin="round"/><path d="M1428.9,479.3 L1427.4,478.3 L1425.7,477.4 L1424.0,476.8 L1422.2,476.3 L1420.2,475.9 L1418.3,475.8 L1416.2,475.9 L1414.1,476.1 L1412.0,476.5 L1409.8,477.1 L1407.6,477.9 L1405.5,478.9 L1403.4,480.0 L1401.2,481.3 L1399.2,482.8 L1397.2,484.3 L1395.2,486.1 L1393.4,487.9 L1391.6,489.9 L1390.0,491.9 L1388.4,494.0 L1387.0,496.3 L1385.7,498.5 L1384.6,500.9 L1383.6,503.2 L1382.8,505.6 L1382.1,508.0 L1381.6,510.3 L1381.2,512.7 L1381.0,514.9 L1381.0,517.2 L1381.2,519.4 L1381.5,521.4 L1382.0,523.4 L1382.6,525.3 L1383.4,527.1 L1384.4,528.7 L1385.5,530.2 L1386.8,531.6 L1388.2,532.8 L1449.0,577.6 L1449.0,577.6 L1450.4,578.6 L1452.0,579.4 L1453.7,580.0 L1455.5,580.5 L1457.3,580.8 L1459.2,581.0 L1461.2,580.9 L1463.2,580.7 L1465.3,580.3 L1467.4,579.7 L1469.5,578.9 L1471.5,578.0 L1473.6,576.9 L1475.6,575.6 L1477.6,574.3 L1479.6,572.7 L1481.4,571.1 L1483.2,569.3 L1484.9,567.4 L1486.5,565.4 L1488.0,563.4 L1489.3,561.2 L1490.6,559.0 L1491.7,556.8 L1492.6,554.5 L1493.5,552.2 L1494.1,550.0 L1494.6,547.7 L1495.0,545.4 L1495.1,543.2 L1495.2,541.1 L1495.0,539.0 L1494.7,536.9 L1494.2,535.0 L1493.6,533.2 L1492.8,531.5 L1491.9,529.9 L1490.8,528.5 L1489.6,527.2 L1488.2,526.0 L1432.9,483.9Z" fill="#fff" stroke="none" stroke-width="0.9" /><path d="M1428.9,479.3 L1427.4,478.3 L1425.7,477.4 L1424.0,476.8 L1422.2,476.3 L1420.2,475.9 L1418.3,475.8 L1416.2,475.9 L1414.1,476.1 L1412.0,476.5 L1409.8,477.1 L1407.6,477.9 L1405.5,478.9 L1403.4,480.0 L1401.2,481.3 L1399.2,482.8 L1397.2,484.3 L1395.2,486.1 L1393.4,487.9 L1391.6,489.9 L1390.0,491.9 L1388.4,494.0 L1387.0,496.3 L1385.7,498.5 L1384.6,500.9 L1383.6,503.2 L1382.8,505.6 L1382.1,508.0 L1381.6,510.3 L1381.2,512.7 L1381.0,514.9 L1381.0,517.2 L1381.2,519.4 L1381.5,521.4 L1382.0,523.4 L1382.6,525.3 L1383.4,527.1 L1384.4,528.7 L1385.5,530.2 L1386.8,531.6 L1388.2,532.8" fill="none" stroke="#3c3c3c" stroke-width="0.9" /><path d="M1432.1,482.6 L1430.6,481.8 L1429.0,481.1 L1427.3,480.6 L1425.5,480.2 L1423.6,480.0 L1421.7,480.0 L1419.7,480.1 L1417.7,480.4 L1415.7,480.9 L1413.7,481.6 L1411.6,482.4 L1409.6,483.3 L1407.6,484.4 L1405.6,485.7 L1403.7,487.1 L1401.8,488.6 L1400.0,490.2 L1398.2,492.0 L1396.6,493.8 L1395.0,495.8 L1393.6,497.8 L1392.2,499.9 L1391.0,502.0 L1389.9,504.2 L1389.0,506.4 L1388.1,508.6 L1387.5,510.9 L1386.9,513.1 L1386.5,515.3 L1386.3,517.5 L1386.2,519.6 L1386.3,521.7 L1386.5,523.7 L1386.9,525.7 L1387.4,527.5 L1388.1,529.2 L1388.9,530.9 L1389.9,532.4 L1391.0,533.8 L1392.2,535.0" fill="none" stroke="#3c3c3c" stroke-width="0.9" /><path d="M1432.9,483.9 L1488.2,526.0" fill="none" stroke="#3c3c3c" stroke-width="0.9" /><path d="M1393.7,535.5 L1449.0,577.6" fill="none" stroke="#3c3c3c" stroke-width="0.9" /><path d="M1449.0,577.6 L1450.9,578.9 L1453.1,579.8 L1455.5,580.5 L1457.9,580.9 L1460.5,580.9 L1463.2,580.7 L1466.0,580.1 L1468.8,579.2 L1471.5,578.0 L1474.3,576.5 L1477.0,574.7 L1479.6,572.7 L1482.0,570.5 L1484.3,568.1 L1486.5,565.4 L1488.5,562.7 L1490.2,559.8 L1491.7,556.8 L1492.9,553.8 L1493.9,550.7 L1494.6,547.7 L1495.0,544.7 L1495.2,541.8 L1495.0,539.0 L1494.6,536.3 L1493.8,533.8 L1492.8,531.5 L1491.5,529.4 L1490.0,527.6 L1488.2,526.0 L1486.3,524.7 L1484.1,523.8 L1481.7,523.1 L1479.3,522.7 L1476.7,522.7 L1474.0,522.9 L1471.2,523.5 L1468.4,524.4 L1465.7,525.6 L1462.9,527.1 L1460.2,528.9 L1457.6,530.9 L1455.2,533.1 L1452.9,535.5 L1450.7,538.2 L1448.7,540.9 L1447.0,543.8 L1445.5,546.8 L1444.3,549.8 L1443.3,552.9 L1442.6,555.9 L1442.2,558.9 L1442.0,561.8 L1442.2,564.6 L1442.6,567.3 L1443.4,569.8 L1444.4,572.1 L1445.7,574.2 L1447.2,576.0 L1449.0,577.6Z" fill="#fff" stroke="#3c3c3c" stroke-width="0.9" /><g transform="translate(1468.6,551.8) scale(1.25) translate(-872.8,-198.2)"><path d="M870.6,198.0 L874.6,190.0 L876.6,196.4 L880.4,189.8 L880.8,198.6" fill="none" stroke="#3c3c3c" stroke-width="0.9" /><path d="M872.6,197.6 L875.0,192.4 M877.6,197.0 L880.0,192.2" fill="none" stroke="#777" stroke-width="1.2" /><circle cx="869.8" cy="201.6" r="3.0" fill="#666" stroke="#3c3c3c" stroke-width="0.9"/><circle cx="869.4" cy="201.2" r="1.0" fill="#ddd"/><path d="M866.8,204.4 L872.4,206.4 M867.6,206.6 L871.6,207.6" fill="none" stroke="#3c3c3c" stroke-width="0.9" /><circle cx="876.6" cy="201.2" r="2.0" fill="#3c3c3c"/><path d="M871.6,208.6 Q865.6,208.2 865.8,212.0 Q866.8,215.0 872.6,214.0 Q877.0,212.8 878.0,209.6" fill="none" stroke="#3c3c3c" stroke-width="0.9" /><path d="M868.6,210.2 Q869.6,212.4 872.0,211.6" fill="none" stroke="#3c3c3c" stroke-width="0.7" /></g><path d="M1475,561.7 L1478.9,573.5 L1442.5,626.6 L1457.2,629.6 L1491.7,576.4 Q1493.5,563 1485.8,557.7 Z" fill="#fff" stroke="none" stroke-width="0.9" /><path d="M1485.8,557.7 Q1493.5,563 1491.7,576.4 L1457.2,629.6" fill="none" stroke="#3c3c3c" stroke-width="0.9" /><path d="M1475,561.7 L1478.9,573.5 L1442.5,626.6" fill="none" stroke="#3c3c3c" stroke-width="0.9" /><path d="M1476.8,561.2 L1480.6,573.6 L1444.4,626.8" fill="none" stroke="#3c3c3c" stroke-width="0.7" /><path d="M1479.6,556.2 C1486,553.6 1492,553.2 1497,554.2" fill="none" stroke="#3c3c3c" stroke-width="4.5" stroke-linecap="butt" stroke-linejoin="round"/><path d="M1479.6,556.2 C1486,553.6 1492,553.2 1497,554.2" fill="none" stroke="#fff" stroke-width="2.7" stroke-linecap="butt" stroke-linejoin="round"/><path d="M1432.1,633.8 L1441.6,724.5 L1443.0,724.5 L1452.4,633.8 Z" fill="#fff" stroke="#3c3c3c" stroke-width="0.9" /><path d="M1437.6,633.8 L1441.8,722 M1446.4,633.8 L1442.6,722" fill="none" stroke="#3c3c3c" stroke-width="0.7" /><rect x="1424.8" y="630.0" width="35.6" height="3.8" rx="1.8" fill="#fff" stroke="#3c3c3c" stroke-width="0.9"/><rect x="1427.0" y="628.6" width="31.6" height="1.4" rx="0" fill="#fff" stroke="#3c3c3c" stroke-width="0.7"/><rect x="1436.6" y="623.7" width="6.0" height="4.9" rx="0" fill="#fff" stroke="#3c3c3c" stroke-width="0.8"/><path d="M1421.5,648.2 Q1424,641.8 1443.5,641.8 Q1463,641.8 1466,649.5" fill="none" stroke="#555" stroke-width="0.9" /><path d="M1421.0,649.5 Q1421.5,656.6 1435,658.2 L1448.5,658.4" fill="none" stroke="#5a5a5a" stroke-width="3.6" /><path d="M1447.5,654.0 L1455.5,658.4 L1447.5,662.8 Z" fill="#5a5a5a" stroke="none" stroke-width="0.9" /><path d="M1458.6,657.6 Q1465.6,654.6 1466.0,649.8" fill="none" stroke="#5a5a5a" stroke-width="3.2" /><path d="M2236.0,103.2 C2245,100.6 2255,99.4 2265,102.2 C2285,108 2305,130 2325.8,167.8" fill="none" stroke="#3c3c3c" stroke-width="4.3" stroke-linecap="butt" stroke-linejoin="round"/><path d="M2236.0,103.2 C2245,100.6 2255,99.4 2265,102.2 C2285,108 2305,130 2325.8,167.8" fill="none" stroke="#fff" stroke-width="2.5" stroke-linecap="square" stroke-linejoin="round"/><path d="M2177.3,41.3 L2177.0,41.2 L2176.7,41.3 L2176.2,41.5 L2175.7,41.9 L2175.1,42.3 L2174.5,43.0 L2173.7,43.7 L2173.0,44.6 L2172.1,45.6 L2171.2,46.7 L2170.3,47.9 L2169.3,49.3 L2168.3,50.7 L2167.3,52.2 L2166.2,53.8 L2165.2,55.4 L2164.1,57.1 L2163.0,58.8 L2161.9,60.6 L2160.9,62.4 L2159.9,64.2 L2158.8,66.0 L2157.9,67.8 L2156.9,69.6 L2156.0,71.3 L2155.2,73.0 L2154.4,74.6 L2153.6,76.2 L2153.0,77.7 L2152.4,79.1 L2151.8,80.4 L2151.4,81.7 L2151.0,82.8 L2150.7,83.8 L2150.5,84.7 L2150.4,85.4 L2150.3,86.0 L2150.3,86.5 L2150.5,86.9 L2150.7,87.1 L2216.9,125.6 L2217.2,125.7 L2217.6,125.7 L2218.1,125.5 L2218.7,125.2 L2219.4,124.8 L2220.1,124.2 L2220.9,123.4 L2221.7,122.6 L2222.6,121.6 L2223.5,120.5 L2224.5,119.3 L2225.5,118.0 L2226.6,116.6 L2227.6,115.1 L2228.7,113.6 L2229.8,112.0 L2230.9,110.3 L2232.0,108.5 L2233.0,106.8 L2234.1,105.0 L2235.1,103.2 L2236.1,101.4 L2237.1,99.6 L2238.0,97.8 L2238.9,96.1 L2239.7,94.4 L2240.5,92.7 L2241.2,91.1 L2241.8,89.6 L2242.4,88.1 L2242.9,86.8 L2243.3,85.5 L2243.6,84.4 L2243.8,83.4 L2244.0,82.4 L2244.1,81.6 L2244.1,81.0 L2244.0,80.5 L2243.8,80.1 L2243.5,79.8Z" fill="#fff" stroke="none" stroke-width="0.9" /><path d="M2177.3,41.3 L2243.5,79.8" fill="none" stroke="#3c3c3c" stroke-width="0.9" /><path d="M2150.7,87.1 L2216.9,125.6" fill="none" stroke="#3c3c3c" stroke-width="0.9" /><path d="M2216.9,125.6 L2217.2,125.7 L2217.6,125.7 L2218.1,125.5 L2218.7,125.2 L2219.4,124.8 L2220.1,124.2 L2220.9,123.4 L2221.7,122.6 L2222.6,121.6 L2223.5,120.5 L2224.5,119.3 L2225.5,118.0 L2226.6,116.6 L2227.6,115.1 L2228.7,113.6 L2229.8,112.0 L2230.9,110.3 L2232.0,108.5 L2233.0,106.8 L2234.1,105.0 L2235.1,103.2 L2236.1,101.4 L2237.1,99.6 L2238.0,97.8 L2238.9,96.1 L2239.7,94.4 L2240.5,92.7 L2241.2,91.1 L2241.8,89.6 L2242.4,88.1 L2242.9,86.8 L2243.3,85.5 L2243.6,84.4 L2243.8,83.4 L2244.0,82.4 L2244.1,81.6 L2244.1,81.0 L2244.0,80.5 L2243.8,80.1 L2243.5,79.8" fill="none" stroke="#3c3c3c" stroke-width="0.9" /><path d="M2216.3,124.4 L2216.7,124.3 L2217.2,124.1 L2217.7,123.7 L2218.3,123.3 L2218.9,122.7 L2219.6,122.0 L2220.3,121.2 L2221.1,120.3 L2221.9,119.4 L2222.8,118.3 L2223.7,117.1 L2224.6,115.9 L2225.5,114.6 L2226.5,113.2 L2227.4,111.7 L2228.4,110.3 L2229.4,108.7 L2230.4,107.2 L2231.3,105.6 L2232.3,103.9 L2233.2,102.3 L2234.1,100.7 L2235.0,99.1 L2235.9,97.5 L2236.7,95.9 L2237.4,94.3 L2238.2,92.8 L2238.9,91.3 L2239.5,89.9 L2240.1,88.6 L2240.6,87.3 L2241.0,86.1 L2241.4,85.0 L2241.7,84.0 L2242.0,83.0 L2242.1,82.2 L2242.3,81.5 L2242.3,80.9 L2242.3,80.3 L2242.2,79.9" fill="none" stroke="#3c3c3c" stroke-width="0.7" /><path d="M2150.7,87.1 L2151.1,87.2 L2151.6,87.0 L2152.3,86.5 L2153.1,85.9 L2154.0,84.9 L2155.0,83.8 L2156.2,82.4 L2157.4,80.9 L2158.7,79.1 L2160.0,77.2 L2161.4,75.2 L2162.8,73.0 L2164.3,70.7 L2165.7,68.4 L2167.1,66.0 L2168.5,63.6 L2169.8,61.2 L2171.1,58.8 L2172.3,56.5 L2173.4,54.3 L2174.4,52.2 L2175.2,50.2 L2176.0,48.4 L2176.6,46.7 L2177.1,45.3 L2177.4,44.0 L2177.6,43.0 L2177.7,42.2 L2177.6,41.6 L2177.3,41.3 L2176.9,41.2 L2176.4,41.4 L2175.7,41.9 L2174.9,42.5 L2174.0,43.5 L2173.0,44.6 L2171.8,46.0 L2170.6,47.5 L2169.3,49.3 L2168.0,51.2 L2166.6,53.2 L2165.2,55.4 L2163.7,57.7 L2162.3,60.0 L2160.9,62.4 L2159.5,64.8 L2158.2,67.2 L2156.9,69.6 L2155.7,71.9 L2154.6,74.1 L2153.6,76.2 L2152.8,78.2 L2152.0,80.0 L2151.4,81.7 L2150.9,83.1 L2150.6,84.4 L2150.4,85.4 L2150.3,86.2 L2150.4,86.8 L2150.7,87.1Z" fill="#fff" stroke="#3c3c3c" stroke-width="0.9" /><path d="M2152.9,84.1 L2153.1,84.1 L2153.5,83.9 L2154.0,83.4 L2154.6,82.8 L2155.3,82.0 L2156.1,80.9 L2157.0,79.7 L2158.0,78.3 L2159.0,76.8 L2160.1,75.1 L2161.3,73.3 L2162.4,71.4 L2163.7,69.5 L2164.9,67.5 L2166.1,65.4 L2167.3,63.3 L2168.4,61.3 L2169.5,59.3 L2170.6,57.3 L2171.6,55.4 L2172.5,53.6 L2173.3,52.0 L2174.0,50.4 L2174.6,49.1 L2175.1,47.8 L2175.5,46.8 L2175.8,46.0 L2175.9,45.3 L2175.9,44.9 L2175.8,44.7 L2175.6,44.7 L2175.2,44.9 L2174.7,45.4 L2174.1,46.0 L2173.4,46.8 L2172.6,47.9 L2171.7,49.1 L2170.7,50.5 L2169.7,52.0 L2168.6,53.7 L2167.4,55.5 L2166.2,57.4 L2165.0,59.3 L2163.8,61.3 L2162.6,63.4 L2161.4,65.5 L2160.3,67.5 L2159.2,69.5 L2158.1,71.5 L2157.1,73.4 L2156.2,75.2 L2155.4,76.8 L2154.7,78.4 L2154.1,79.7 L2153.6,81.0 L2153.2,82.0 L2152.9,82.8 L2152.8,83.5 L2152.8,83.9 L2152.9,84.1Z" fill="none" stroke="#3c3c3c" stroke-width="1.3" /><path d="M2184.2,45.3 L2184.0,45.2 L2183.6,45.3 L2183.1,45.5 L2182.6,45.9 L2182.0,46.4 L2181.4,47.0 L2180.7,47.7 L2179.9,48.6 L2179.0,49.6 L2178.1,50.7 L2177.2,52.0 L2176.2,53.3 L2175.2,54.7 L2174.2,56.2 L2173.1,57.8 L2172.1,59.4 L2171.0,61.1 L2169.9,62.9 L2168.9,64.6 L2167.8,66.4 L2166.8,68.2 L2165.8,70.0 L2164.8,71.8 L2163.8,73.6 L2162.9,75.3 L2162.1,77.0 L2161.3,78.6 L2160.6,80.2 L2159.9,81.7 L2159.3,83.1 L2158.8,84.5 L2158.3,85.7 L2157.9,86.8 L2157.6,87.8 L2157.4,88.7 L2157.3,89.4 L2157.2,90.1 L2157.3,90.6 L2157.4,90.9 L2157.6,91.1" fill="none" stroke="#3c3c3c" stroke-width="0.8" /><circle cx="2235.2" cy="106.8" r="2.4" fill="#fff" stroke="#3c3c3c" stroke-width="0.9"/><path d="M2224.0,117.6 Q2226.5,113.5 2231.0,112.8 L2235.8,112.6" fill="none" stroke="#3c3c3c" stroke-width="0.8" /><path d="M2225.6,120.0 Q2230.5,119.0 2236.0,114.6" fill="none" stroke="#3c3c3c" stroke-width="0.8" /><path d="M2238.4,106.6 Q2247.2,112.0 2246.8,119.8 L2205.0,160.5 L2201.6,158.6 L2242.0,119.8 Q2241.6,114.0 2235.6,109.6 Z" fill="#fff" stroke="none" stroke-width="0.9" /><path d="M2238.4,106.6 Q2247.2,112.0 2246.8,119.8 L2205.0,160.5" fill="none" stroke="#3c3c3c" stroke-width="0.9" /><path d="M2235.6,109.6 Q2241.6,114.0 2242.0,119.8 L2201.6,158.6" fill="none" stroke="#3c3c3c" stroke-width="0.9" /><path d="M2237.0,108.2 Q2244.2,113.0 2244.4,119.8 L2203.3,159.6" fill="none" stroke="#3c3c3c" stroke-width="0.6" /><path d="M2190.8,166.6 L2199.8,239.4 L2201.2,239.4 L2211.4,166.6 Z" fill="#fff" stroke="#3c3c3c" stroke-width="0.9" /><path d="M2196.0,166.6 L2200.0,237.0 M2205.6,166.6 L2200.8,237.0" fill="none" stroke="#3c3c3c" stroke-width="0.7" /><rect x="2186.4" y="163.8" width="29.6" height="2.8" rx="1.2" fill="#fff" stroke="#3c3c3c" stroke-width="0.9"/><rect x="2195.0" y="158.6" width="10.2" height="5.2" rx="1.0" fill="#fff" stroke="#3c3c3c" stroke-width="0.8"/><use href="#spA" transform="matrix(-0.88,0,0,0.82,2808,228)"/><use href="#spA" transform="matrix(-0.88,0,0,0.82,2934,242)"/><path d="M2031.0,392.0 C2015,389 2003,398 1995,412 C1987,426 1981,440 1976.5,453 C1971,468 1964,480 1962.6,488 Q1962.8,496.5 1971.5,497.6 L2075,512.6" fill="none" stroke="#3c3c3c" stroke-width="3.6999999999999997" stroke-linecap="butt" stroke-linejoin="round"/><path d="M2031.0,392.0 C2015,389 2003,398 1995,412 C1987,426 1981,440 1976.5,453 C1971,468 1964,480 1962.6,488 Q1962.8,496.5 1971.5,497.6 L2075,512.6" fill="none" stroke="#fff" stroke-width="1.9" stroke-linecap="butt" stroke-linejoin="round"/><path d="M2156.6,405.6 C2140,404 2128,416 2119,432 C2111,448 2104,470 2099.5,488 L2097.5,499" fill="none" stroke="#3c3c3c" stroke-width="3.6999999999999997" stroke-linecap="butt" stroke-linejoin="round"/><path d="M2156.6,405.6 C2140,404 2128,416 2119,432 C2111,448 2104,470 2099.5,488 L2097.5,499" fill="none" stroke="#fff" stroke-width="1.9" stroke-linecap="butt" stroke-linejoin="round"/><path d="M2113.0,519.0 L2220.0,538.0 Q2243.5,542.5 2246.0,562.0 L2248.2,606 L2248.2,675 Q2247.0,703.5 2225.0,711.5 Q2180,727 2122.9,734.9" fill="none" stroke="#3c3c3c" stroke-width="3.6999999999999997" stroke-linecap="butt" stroke-linejoin="round"/><path d="M2113.0,519.0 L2220.0,538.0 Q2243.5,542.5 2246.0,562.0 L2248.2,606 L2248.2,675 Q2247.0,703.5 2225.0,711.5 Q2180,727 2122.9,734.9" fill="none" stroke="#fff" stroke-width="1.9" stroke-linecap="butt" stroke-linejoin="round"/><path d="M2070.2,734.9 L1950.0,734.9 Q1938,734.5 1931,726 Q1923,716 1922.6,704 Q1922.2,690 1925.2,678 Q1927.2,670 1926.7,662.8" fill="none" stroke="#3c3c3c" stroke-width="3.6999999999999997" stroke-linecap="butt" stroke-linejoin="round"/><path d="M2070.2,734.9 L1950.0,734.9 Q1938,734.5 1931,726 Q1923,716 1922.6,704 Q1922.2,690 1925.2,678 Q1927.2,670 1926.7,662.8" fill="none" stroke="#fff" stroke-width="1.9" stroke-linecap="butt" stroke-linejoin="round"/><g transform="rotate(-66,1975.3,455.4)"><rect x="1966.8" y="452.2" width="17.0" height="6.4" rx="0" fill="#fff" stroke="#3c3c3c" stroke-width="0.8"/><line x1="1970.5" y1="452.2" x2="1970.5" y2="458.6" stroke="#3c3c3c" stroke-width="0.6"/><line x1="1973.5" y1="451.6" x2="1973.5" y2="459.2" stroke="#3c3c3c" stroke-width="0.6"/><line x1="1977.5" y1="451.6" x2="1977.5" y2="459.2" stroke="#3c3c3c" stroke-width="0.6"/><line x1="1980.5" y1="452.2" x2="1980.5" y2="458.6" stroke="#3c3c3c" stroke-width="0.6"/></g><g transform="rotate(8.7,2094,517.5)"><rect x="2093.0" y="502.0" width="8.0" height="8.5" rx="0" fill="#fff" stroke="#3c3c3c" stroke-width="0.8"/><rect x="2094.0" y="495.0" width="6.0" height="7.5" rx="0" fill="#fff" stroke="#3c3c3c" stroke-width="0.7"/><line x1="2096.0" y1="495.0" x2="2096.0" y2="502.5" stroke="#3c3c3c" stroke-width="0.6"/><line x1="2098.0" y1="495.0" x2="2098.0" y2="502.5" stroke="#3c3c3c" stroke-width="0.6"/><rect x="2075.0" y="513.0" width="6.0" height="9.0" rx="2" fill="#fff" stroke="#3c3c3c" stroke-width="0.8"/><rect x="2080.0" y="510.5" width="28.0" height="14.0" rx="1" fill="#fff" stroke="#3c3c3c" stroke-width="0.9"/><line x1="2083.0" y1="510.5" x2="2083.0" y2="524.5" stroke="#3c3c3c" stroke-width="0.7"/><line x1="2105.0" y1="510.5" x2="2105.0" y2="524.5" stroke="#3c3c3c" stroke-width="0.7"/><rect x="2107.5" y="512.5" width="6.0" height="10.0" rx="2" fill="#fff" stroke="#3c3c3c" stroke-width="0.8"/></g><rect x="2070.2" y="729.0" width="52.7" height="10.8" rx="1.2" fill="#fff" stroke="#3c3c3c" stroke-width="0.9"/><line x1="2070.6" y1="731.6" x2="2122.4" y2="731.6" stroke="#3c3c3c" stroke-width="0.6"/><line x1="2074.4" y1="729.0" x2="2074.4" y2="739.8" stroke="#3c3c3c" stroke-width="0.7"/><line x1="2119.9" y1="729.0" x2="2119.9" y2="739.8" stroke="#3c3c3c" stroke-width="0.7"/><rect x="1905.2" y="554.1" width="47.8" height="76.2" rx="1.0" fill="#fff" stroke="#3c3c3c" stroke-width="1.0"/><rect x="1907.7" y="556.4" width="43.2" height="71.6" rx="0" fill="#fff" stroke="#3c3c3c" stroke-width="0.8"/><line x1="1905.2" y1="554.1" x2="1907.7" y2="556.4" stroke="#3c3c3c" stroke-width="0.6"/><line x1="1953.0" y1="554.1" x2="1950.9" y2="556.4" stroke="#3c3c3c" stroke-width="0.6"/><line x1="1953.0" y1="630.3" x2="1950.9" y2="628.0" stroke="#3c3c3c" stroke-width="0.6"/><path d="M1921.5,567.0 L1935.5,567.0 Q1939.6,570.5 1939.4,576.7 Q1939.6,582.8 1935.5,586.3 L1921.5,586.3 Q1917.4,582.8 1917.6,576.7 Q1917.4,570.5 1921.5,567.0 Z" fill="#fff" stroke="#3c3c3c" stroke-width="1.0" /><rect x="1922.6" y="573.6" width="4.2" height="8.0" rx="0" fill="#fff" stroke="#3c3c3c" stroke-width="0.9"/><rect x="1929.8" y="573.6" width="4.2" height="8.0" rx="0" fill="#fff" stroke="#3c3c3c" stroke-width="0.9"/><line x1="1924.7" y1="574.0" x2="1924.7" y2="581.0" stroke="#3c3c3c" stroke-width="0.6"/><line x1="1931.9" y1="574.0" x2="1931.9" y2="581.0" stroke="#3c3c3c" stroke-width="0.6"/><path d="M1926.6,569.4 Q1928.4,572.6 1930.2,569.4" fill="none" stroke="#3c3c3c" stroke-width="0.8" /><rect x="1939.4" y="601.0" width="4.0" height="52.4" rx="0" fill="#fff" stroke="#3c3c3c" stroke-width="0.9"/><rect x="1908.2" y="599.5" width="31.6" height="55.4" rx="0.8" fill="#fff" stroke="#3c3c3c" stroke-width="0.9"/><path d="M1915.2,615.3 Q1915.8,639 1923.6,643.6 Q1931.8,639 1932.8,615.3" fill="none" stroke="#3c3c3c" stroke-width="0.7" /><path d="M1916.8,615.6 Q1917.6,637 1923.8,641.4 Q1930.4,637 1931.2,615.6" fill="none" stroke="#3c3c3c" stroke-width="0.5" /><rect x="1924.0" y="654.9" width="5.4" height="7.9" rx="0" fill="#fff" stroke="#3c3c3c" stroke-width="0.8"/><line x1="1924.0" y1="657.5" x2="1929.4" y2="657.5" stroke="#3c3c3c" stroke-width="0.6"/><line x1="1924.0" y1="660.2" x2="1929.4" y2="660.2" stroke="#3c3c3c" stroke-width="0.6"/><path d="M2643.70,575.70h3.22v3.22h-3.22zM2646.67,575.70h3.22v3.22h-3.22zM2649.63,575.70h3.22v3.22h-3.22zM2652.60,575.70h3.22v3.22h-3.22zM2655.56,575.70h3.22v3.22h-3.22zM2658.53,575.70h3.22v3.22h-3.22zM2661.49,575.70h3.22v3.22h-3.22zM2667.42,575.70h3.22v3.22h-3.22zM2670.39,575.70h3.22v3.22h-3.22zM2676.32,575.70h3.22v3.22h-3.22zM2682.25,575.70h3.22v3.22h-3.22zM2685.22,575.70h3.22v3.22h-3.22zM2688.18,575.70h3.22v3.22h-3.22zM2691.15,575.70h3.22v3.22h-3.22zM2694.11,575.70h3.22v3.22h-3.22zM2697.08,575.70h3.22v3.22h-3.22zM2700.04,575.70h3.22v3.22h-3.22zM2703.01,575.70h3.22v3.22h-3.22zM2708.94,575.70h3.22v3.22h-3.22zM2711.91,575.70h3.22v3.22h-3.22zM2714.87,575.70h3.22v3.22h-3.22zM2717.84,575.70h3.22v3.22h-3.22zM2720.80,575.70h3.22v3.22h-3.22zM2723.77,575.70h3.22v3.22h-3.22zM2726.73,575.70h3.22v3.22h-3.22zM2643.70,578.67h3.22v3.22h-3.22zM2661.49,578.67h3.22v3.22h-3.22zM2670.39,578.67h3.22v3.22h-3.22zM2673.36,578.67h3.22v3.22h-3.22zM2685.22,578.67h3.22v3.22h-3.22zM2691.15,578.67h3.22v3.22h-3.22zM2697.08,578.67h3.22v3.22h-3.22zM2700.04,578.67h3.22v3.22h-3.22zM2703.01,578.67h3.22v3.22h-3.22zM2708.94,578.67h3.22v3.22h-3.22zM2726.73,578.67h3.22v3.22h-3.22zM2643.70,581.63h3.22v3.22h-3.22zM2649.63,581.63h3.22v3.22h-3.22zM2652.60,581.63h3.22v3.22h-3.22zM2655.56,581.63h3.22v3.22h-3.22zM2661.49,581.63h3.22v3.22h-3.22zM2667.42,581.63h3.22v3.22h-3.22zM2673.36,581.63h3.22v3.22h-3.22zM2682.25,581.63h3.22v3.22h-3.22zM2688.18,581.63h3.22v3.22h-3.22zM2691.15,581.63h3.22v3.22h-3.22zM2694.11,581.63h3.22v3.22h-3.22zM2700.04,581.63h3.22v3.22h-3.22zM2703.01,581.63h3.22v3.22h-3.22zM2708.94,581.63h3.22v3.22h-3.22zM2714.87,581.63h3.22v3.22h-3.22zM2717.84,581.63h3.22v3.22h-3.22zM2720.80,581.63h3.22v3.22h-3.22zM2726.73,581.63h3.22v3.22h-3.22zM2643.70,584.60h3.22v3.22h-3.22zM2649.63,584.60h3.22v3.22h-3.22zM2652.60,584.60h3.22v3.22h-3.22zM2655.56,584.60h3.22v3.22h-3.22zM2661.49,584.60h3.22v3.22h-3.22zM2670.39,584.60h3.22v3.22h-3.22zM2673.36,584.60h3.22v3.22h-3.22zM2682.25,584.60h3.22v3.22h-3.22zM2697.08,584.60h3.22v3.22h-3.22zM2703.01,584.60h3.22v3.22h-3.22zM2708.94,584.60h3.22v3.22h-3.22zM2714.87,584.60h3.22v3.22h-3.22zM2717.84,584.60h3.22v3.22h-3.22zM2720.80,584.60h3.22v3.22h-3.22zM2726.73,584.60h3.22v3.22h-3.22zM2643.70,587.56h3.22v3.22h-3.22zM2649.63,587.56h3.22v3.22h-3.22zM2652.60,587.56h3.22v3.22h-3.22zM2655.56,587.56h3.22v3.22h-3.22zM2661.49,587.56h3.22v3.22h-3.22zM2667.42,587.56h3.22v3.22h-3.22zM2673.36,587.56h3.22v3.22h-3.22zM2676.32,587.56h3.22v3.22h-3.22zM2679.29,587.56h3.22v3.22h-3.22zM2694.11,587.56h3.22v3.22h-3.22zM2708.94,587.56h3.22v3.22h-3.22zM2714.87,587.56h3.22v3.22h-3.22zM2717.84,587.56h3.22v3.22h-3.22zM2720.80,587.56h3.22v3.22h-3.22zM2726.73,587.56h3.22v3.22h-3.22zM2643.70,590.53h3.22v3.22h-3.22zM2661.49,590.53h3.22v3.22h-3.22zM2667.42,590.53h3.22v3.22h-3.22zM2676.32,590.53h3.22v3.22h-3.22zM2682.25,590.53h3.22v3.22h-3.22zM2697.08,590.53h3.22v3.22h-3.22zM2700.04,590.53h3.22v3.22h-3.22zM2708.94,590.53h3.22v3.22h-3.22zM2726.73,590.53h3.22v3.22h-3.22zM2643.70,593.49h3.22v3.22h-3.22zM2646.67,593.49h3.22v3.22h-3.22zM2649.63,593.49h3.22v3.22h-3.22zM2652.60,593.49h3.22v3.22h-3.22zM2655.56,593.49h3.22v3.22h-3.22zM2658.53,593.49h3.22v3.22h-3.22zM2661.49,593.49h3.22v3.22h-3.22zM2667.42,593.49h3.22v3.22h-3.22zM2673.36,593.49h3.22v3.22h-3.22zM2679.29,593.49h3.22v3.22h-3.22zM2685.22,593.49h3.22v3.22h-3.22zM2691.15,593.49h3.22v3.22h-3.22zM2697.08,593.49h3.22v3.22h-3.22zM2703.01,593.49h3.22v3.22h-3.22zM2708.94,593.49h3.22v3.22h-3.22zM2711.91,593.49h3.22v3.22h-3.22zM2714.87,593.49h3.22v3.22h-3.22zM2717.84,593.49h3.22v3.22h-3.22zM2720.80,593.49h3.22v3.22h-3.22zM2723.77,593.49h3.22v3.22h-3.22zM2726.73,593.49h3.22v3.22h-3.22zM2667.42,596.46h3.22v3.22h-3.22zM2670.39,596.46h3.22v3.22h-3.22zM2673.36,596.46h3.22v3.22h-3.22zM2676.32,596.46h3.22v3.22h-3.22zM2679.29,596.46h3.22v3.22h-3.22zM2685.22,596.46h3.22v3.22h-3.22zM2688.18,596.46h3.22v3.22h-3.22zM2691.15,596.46h3.22v3.22h-3.22zM2697.08,596.46h3.22v3.22h-3.22zM2700.04,596.46h3.22v3.22h-3.22zM2652.60,599.42h3.22v3.22h-3.22zM2655.56,599.42h3.22v3.22h-3.22zM2658.53,599.42h3.22v3.22h-3.22zM2661.49,599.42h3.22v3.22h-3.22zM2670.39,599.42h3.22v3.22h-3.22zM2673.36,599.42h3.22v3.22h-3.22zM2676.32,599.42h3.22v3.22h-3.22zM2679.29,599.42h3.22v3.22h-3.22zM2682.25,599.42h3.22v3.22h-3.22zM2688.18,599.42h3.22v3.22h-3.22zM2691.15,599.42h3.22v3.22h-3.22zM2694.11,599.42h3.22v3.22h-3.22zM2697.08,599.42h3.22v3.22h-3.22zM2708.94,599.42h3.22v3.22h-3.22zM2717.84,599.42h3.22v3.22h-3.22zM2646.67,602.39h3.22v3.22h-3.22zM2649.63,602.39h3.22v3.22h-3.22zM2652.60,602.39h3.22v3.22h-3.22zM2658.53,602.39h3.22v3.22h-3.22zM2664.46,602.39h3.22v3.22h-3.22zM2667.42,602.39h3.22v3.22h-3.22zM2670.39,602.39h3.22v3.22h-3.22zM2673.36,602.39h3.22v3.22h-3.22zM2676.32,602.39h3.22v3.22h-3.22zM2679.29,602.39h3.22v3.22h-3.22zM2682.25,602.39h3.22v3.22h-3.22zM2685.22,602.39h3.22v3.22h-3.22zM2688.18,602.39h3.22v3.22h-3.22zM2691.15,602.39h3.22v3.22h-3.22zM2700.04,602.39h3.22v3.22h-3.22zM2703.01,602.39h3.22v3.22h-3.22zM2705.98,602.39h3.22v3.22h-3.22zM2708.94,602.39h3.22v3.22h-3.22zM2711.91,602.39h3.22v3.22h-3.22zM2720.80,602.39h3.22v3.22h-3.22zM2723.77,602.39h3.22v3.22h-3.22zM2726.73,602.39h3.22v3.22h-3.22zM2643.70,605.36h3.22v3.22h-3.22zM2646.67,605.36h3.22v3.22h-3.22zM2649.63,605.36h3.22v3.22h-3.22zM2655.56,605.36h3.22v3.22h-3.22zM2658.53,605.36h3.22v3.22h-3.22zM2661.49,605.36h3.22v3.22h-3.22zM2670.39,605.36h3.22v3.22h-3.22zM2676.32,605.36h3.22v3.22h-3.22zM2691.15,605.36h3.22v3.22h-3.22zM2694.11,605.36h3.22v3.22h-3.22zM2697.08,605.36h3.22v3.22h-3.22zM2708.94,605.36h3.22v3.22h-3.22zM2711.91,605.36h3.22v3.22h-3.22zM2646.67,608.32h3.22v3.22h-3.22zM2649.63,608.32h3.22v3.22h-3.22zM2652.60,608.32h3.22v3.22h-3.22zM2655.56,608.32h3.22v3.22h-3.22zM2658.53,608.32h3.22v3.22h-3.22zM2664.46,608.32h3.22v3.22h-3.22zM2667.42,608.32h3.22v3.22h-3.22zM2676.32,608.32h3.22v3.22h-3.22zM2688.18,608.32h3.22v3.22h-3.22zM2691.15,608.32h3.22v3.22h-3.22zM2694.11,608.32h3.22v3.22h-3.22zM2697.08,608.32h3.22v3.22h-3.22zM2700.04,608.32h3.22v3.22h-3.22zM2711.91,608.32h3.22v3.22h-3.22zM2720.80,608.32h3.22v3.22h-3.22zM2649.63,611.29h3.22v3.22h-3.22zM2652.60,611.29h3.22v3.22h-3.22zM2658.53,611.29h3.22v3.22h-3.22zM2661.49,611.29h3.22v3.22h-3.22zM2670.39,611.29h3.22v3.22h-3.22zM2673.36,611.29h3.22v3.22h-3.22zM2682.25,611.29h3.22v3.22h-3.22zM2685.22,611.29h3.22v3.22h-3.22zM2688.18,611.29h3.22v3.22h-3.22zM2697.08,611.29h3.22v3.22h-3.22zM2708.94,611.29h3.22v3.22h-3.22zM2714.87,611.29h3.22v3.22h-3.22zM2717.84,611.29h3.22v3.22h-3.22zM2646.67,614.25h3.22v3.22h-3.22zM2655.56,614.25h3.22v3.22h-3.22zM2658.53,614.25h3.22v3.22h-3.22zM2664.46,614.25h3.22v3.22h-3.22zM2667.42,614.25h3.22v3.22h-3.22zM2673.36,614.25h3.22v3.22h-3.22zM2676.32,614.25h3.22v3.22h-3.22zM2679.29,614.25h3.22v3.22h-3.22zM2685.22,614.25h3.22v3.22h-3.22zM2688.18,614.25h3.22v3.22h-3.22zM2697.08,614.25h3.22v3.22h-3.22zM2703.01,614.25h3.22v3.22h-3.22zM2711.91,614.25h3.22v3.22h-3.22zM2714.87,614.25h3.22v3.22h-3.22zM2717.84,614.25h3.22v3.22h-3.22zM2720.80,614.25h3.22v3.22h-3.22zM2726.73,614.25h3.22v3.22h-3.22zM2643.70,617.22h3.22v3.22h-3.22zM2652.60,617.22h3.22v3.22h-3.22zM2655.56,617.22h3.22v3.22h-3.22zM2661.49,617.22h3.22v3.22h-3.22zM2667.42,617.22h3.22v3.22h-3.22zM2673.36,617.22h3.22v3.22h-3.22zM2676.32,617.22h3.22v3.22h-3.22zM2682.25,617.22h3.22v3.22h-3.22zM2694.11,617.22h3.22v3.22h-3.22zM2700.04,617.22h3.22v3.22h-3.22zM2703.01,617.22h3.22v3.22h-3.22zM2708.94,617.22h3.22v3.22h-3.22zM2714.87,617.22h3.22v3.22h-3.22zM2643.70,620.18h3.22v3.22h-3.22zM2655.56,620.18h3.22v3.22h-3.22zM2658.53,620.18h3.22v3.22h-3.22zM2664.46,620.18h3.22v3.22h-3.22zM2667.42,620.18h3.22v3.22h-3.22zM2670.39,620.18h3.22v3.22h-3.22zM2673.36,620.18h3.22v3.22h-3.22zM2685.22,620.18h3.22v3.22h-3.22zM2694.11,620.18h3.22v3.22h-3.22zM2703.01,620.18h3.22v3.22h-3.22zM2708.94,620.18h3.22v3.22h-3.22zM2711.91,620.18h3.22v3.22h-3.22zM2720.80,620.18h3.22v3.22h-3.22zM2723.77,620.18h3.22v3.22h-3.22zM2726.73,620.18h3.22v3.22h-3.22zM2643.70,623.15h3.22v3.22h-3.22zM2646.67,623.15h3.22v3.22h-3.22zM2649.63,623.15h3.22v3.22h-3.22zM2655.56,623.15h3.22v3.22h-3.22zM2661.49,623.15h3.22v3.22h-3.22zM2664.46,623.15h3.22v3.22h-3.22zM2667.42,623.15h3.22v3.22h-3.22zM2670.39,623.15h3.22v3.22h-3.22zM2676.32,623.15h3.22v3.22h-3.22zM2679.29,623.15h3.22v3.22h-3.22zM2691.15,623.15h3.22v3.22h-3.22zM2694.11,623.15h3.22v3.22h-3.22zM2697.08,623.15h3.22v3.22h-3.22zM2703.01,623.15h3.22v3.22h-3.22zM2705.98,623.15h3.22v3.22h-3.22zM2708.94,623.15h3.22v3.22h-3.22zM2717.84,623.15h3.22v3.22h-3.22zM2720.80,623.15h3.22v3.22h-3.22zM2646.67,626.11h3.22v3.22h-3.22zM2649.63,626.11h3.22v3.22h-3.22zM2655.56,626.11h3.22v3.22h-3.22zM2658.53,626.11h3.22v3.22h-3.22zM2673.36,626.11h3.22v3.22h-3.22zM2679.29,626.11h3.22v3.22h-3.22zM2685.22,626.11h3.22v3.22h-3.22zM2688.18,626.11h3.22v3.22h-3.22zM2697.08,626.11h3.22v3.22h-3.22zM2700.04,626.11h3.22v3.22h-3.22zM2705.98,626.11h3.22v3.22h-3.22zM2708.94,626.11h3.22v3.22h-3.22zM2711.91,626.11h3.22v3.22h-3.22zM2714.87,626.11h3.22v3.22h-3.22zM2717.84,626.11h3.22v3.22h-3.22zM2720.80,626.11h3.22v3.22h-3.22zM2723.77,626.11h3.22v3.22h-3.22zM2643.70,629.08h3.22v3.22h-3.22zM2646.67,629.08h3.22v3.22h-3.22zM2649.63,629.08h3.22v3.22h-3.22zM2652.60,629.08h3.22v3.22h-3.22zM2655.56,629.08h3.22v3.22h-3.22zM2658.53,629.08h3.22v3.22h-3.22zM2661.49,629.08h3.22v3.22h-3.22zM2664.46,629.08h3.22v3.22h-3.22zM2673.36,629.08h3.22v3.22h-3.22zM2676.32,629.08h3.22v3.22h-3.22zM2682.25,629.08h3.22v3.22h-3.22zM2688.18,629.08h3.22v3.22h-3.22zM2691.15,629.08h3.22v3.22h-3.22zM2697.08,629.08h3.22v3.22h-3.22zM2700.04,629.08h3.22v3.22h-3.22zM2703.01,629.08h3.22v3.22h-3.22zM2705.98,629.08h3.22v3.22h-3.22zM2708.94,629.08h3.22v3.22h-3.22zM2711.91,629.08h3.22v3.22h-3.22zM2714.87,629.08h3.22v3.22h-3.22zM2723.77,629.08h3.22v3.22h-3.22zM2649.63,632.04h3.22v3.22h-3.22zM2652.60,632.04h3.22v3.22h-3.22zM2655.56,632.04h3.22v3.22h-3.22zM2658.53,632.04h3.22v3.22h-3.22zM2664.46,632.04h3.22v3.22h-3.22zM2670.39,632.04h3.22v3.22h-3.22zM2673.36,632.04h3.22v3.22h-3.22zM2676.32,632.04h3.22v3.22h-3.22zM2688.18,632.04h3.22v3.22h-3.22zM2691.15,632.04h3.22v3.22h-3.22zM2694.11,632.04h3.22v3.22h-3.22zM2697.08,632.04h3.22v3.22h-3.22zM2708.94,632.04h3.22v3.22h-3.22zM2711.91,632.04h3.22v3.22h-3.22zM2714.87,632.04h3.22v3.22h-3.22zM2717.84,632.04h3.22v3.22h-3.22zM2720.80,632.04h3.22v3.22h-3.22zM2646.67,635.01h3.22v3.22h-3.22zM2652.60,635.01h3.22v3.22h-3.22zM2655.56,635.01h3.22v3.22h-3.22zM2658.53,635.01h3.22v3.22h-3.22zM2661.49,635.01h3.22v3.22h-3.22zM2664.46,635.01h3.22v3.22h-3.22zM2667.42,635.01h3.22v3.22h-3.22zM2670.39,635.01h3.22v3.22h-3.22zM2673.36,635.01h3.22v3.22h-3.22zM2676.32,635.01h3.22v3.22h-3.22zM2679.29,635.01h3.22v3.22h-3.22zM2682.25,635.01h3.22v3.22h-3.22zM2685.22,635.01h3.22v3.22h-3.22zM2688.18,635.01h3.22v3.22h-3.22zM2691.15,635.01h3.22v3.22h-3.22zM2694.11,635.01h3.22v3.22h-3.22zM2697.08,635.01h3.22v3.22h-3.22zM2703.01,635.01h3.22v3.22h-3.22zM2708.94,635.01h3.22v3.22h-3.22zM2711.91,635.01h3.22v3.22h-3.22zM2714.87,635.01h3.22v3.22h-3.22zM2673.36,637.98h3.22v3.22h-3.22zM2676.32,637.98h3.22v3.22h-3.22zM2682.25,637.98h3.22v3.22h-3.22zM2691.15,637.98h3.22v3.22h-3.22zM2697.08,637.98h3.22v3.22h-3.22zM2708.94,637.98h3.22v3.22h-3.22zM2723.77,637.98h3.22v3.22h-3.22zM2643.70,640.94h3.22v3.22h-3.22zM2646.67,640.94h3.22v3.22h-3.22zM2649.63,640.94h3.22v3.22h-3.22zM2652.60,640.94h3.22v3.22h-3.22zM2655.56,640.94h3.22v3.22h-3.22zM2658.53,640.94h3.22v3.22h-3.22zM2661.49,640.94h3.22v3.22h-3.22zM2667.42,640.94h3.22v3.22h-3.22zM2691.15,640.94h3.22v3.22h-3.22zM2694.11,640.94h3.22v3.22h-3.22zM2697.08,640.94h3.22v3.22h-3.22zM2700.04,640.94h3.22v3.22h-3.22zM2703.01,640.94h3.22v3.22h-3.22zM2705.98,640.94h3.22v3.22h-3.22zM2708.94,640.94h3.22v3.22h-3.22zM2711.91,640.94h3.22v3.22h-3.22zM2714.87,640.94h3.22v3.22h-3.22zM2717.84,640.94h3.22v3.22h-3.22zM2643.70,643.91h3.22v3.22h-3.22zM2661.49,643.91h3.22v3.22h-3.22zM2673.36,643.91h3.22v3.22h-3.22zM2676.32,643.91h3.22v3.22h-3.22zM2685.22,643.91h3.22v3.22h-3.22zM2694.11,643.91h3.22v3.22h-3.22zM2700.04,643.91h3.22v3.22h-3.22zM2703.01,643.91h3.22v3.22h-3.22zM2705.98,643.91h3.22v3.22h-3.22zM2711.91,643.91h3.22v3.22h-3.22zM2720.80,643.91h3.22v3.22h-3.22zM2723.77,643.91h3.22v3.22h-3.22zM2726.73,643.91h3.22v3.22h-3.22zM2643.70,646.87h3.22v3.22h-3.22zM2649.63,646.87h3.22v3.22h-3.22zM2652.60,646.87h3.22v3.22h-3.22zM2655.56,646.87h3.22v3.22h-3.22zM2661.49,646.87h3.22v3.22h-3.22zM2679.29,646.87h3.22v3.22h-3.22zM2682.25,646.87h3.22v3.22h-3.22zM2685.22,646.87h3.22v3.22h-3.22zM2691.15,646.87h3.22v3.22h-3.22zM2697.08,646.87h3.22v3.22h-3.22zM2700.04,646.87h3.22v3.22h-3.22zM2703.01,646.87h3.22v3.22h-3.22zM2714.87,646.87h3.22v3.22h-3.22zM2717.84,646.87h3.22v3.22h-3.22zM2720.80,646.87h3.22v3.22h-3.22zM2723.77,646.87h3.22v3.22h-3.22zM2726.73,646.87h3.22v3.22h-3.22zM2643.70,649.84h3.22v3.22h-3.22zM2649.63,649.84h3.22v3.22h-3.22zM2652.60,649.84h3.22v3.22h-3.22zM2655.56,649.84h3.22v3.22h-3.22zM2661.49,649.84h3.22v3.22h-3.22zM2670.39,649.84h3.22v3.22h-3.22zM2679.29,649.84h3.22v3.22h-3.22zM2682.25,649.84h3.22v3.22h-3.22zM2691.15,649.84h3.22v3.22h-3.22zM2694.11,649.84h3.22v3.22h-3.22zM2697.08,649.84h3.22v3.22h-3.22zM2703.01,649.84h3.22v3.22h-3.22zM2708.94,649.84h3.22v3.22h-3.22zM2717.84,649.84h3.22v3.22h-3.22zM2723.77,649.84h3.22v3.22h-3.22zM2643.70,652.80h3.22v3.22h-3.22zM2649.63,652.80h3.22v3.22h-3.22zM2652.60,652.80h3.22v3.22h-3.22zM2655.56,652.80h3.22v3.22h-3.22zM2661.49,652.80h3.22v3.22h-3.22zM2670.39,652.80h3.22v3.22h-3.22zM2676.32,652.80h3.22v3.22h-3.22zM2679.29,652.80h3.22v3.22h-3.22zM2682.25,652.80h3.22v3.22h-3.22zM2685.22,652.80h3.22v3.22h-3.22zM2688.18,652.80h3.22v3.22h-3.22zM2691.15,652.80h3.22v3.22h-3.22zM2694.11,652.80h3.22v3.22h-3.22zM2697.08,652.80h3.22v3.22h-3.22zM2700.04,652.80h3.22v3.22h-3.22zM2705.98,652.80h3.22v3.22h-3.22zM2714.87,652.80h3.22v3.22h-3.22zM2726.73,652.80h3.22v3.22h-3.22zM2643.70,655.77h3.22v3.22h-3.22zM2661.49,655.77h3.22v3.22h-3.22zM2667.42,655.77h3.22v3.22h-3.22zM2670.39,655.77h3.22v3.22h-3.22zM2679.29,655.77h3.22v3.22h-3.22zM2682.25,655.77h3.22v3.22h-3.22zM2685.22,655.77h3.22v3.22h-3.22zM2688.18,655.77h3.22v3.22h-3.22zM2691.15,655.77h3.22v3.22h-3.22zM2697.08,655.77h3.22v3.22h-3.22zM2703.01,655.77h3.22v3.22h-3.22zM2705.98,655.77h3.22v3.22h-3.22zM2708.94,655.77h3.22v3.22h-3.22zM2711.91,655.77h3.22v3.22h-3.22zM2714.87,655.77h3.22v3.22h-3.22zM2643.70,658.73h3.22v3.22h-3.22zM2646.67,658.73h3.22v3.22h-3.22zM2649.63,658.73h3.22v3.22h-3.22zM2652.60,658.73h3.22v3.22h-3.22zM2655.56,658.73h3.22v3.22h-3.22zM2658.53,658.73h3.22v3.22h-3.22zM2661.49,658.73h3.22v3.22h-3.22zM2679.29,658.73h3.22v3.22h-3.22zM2685.22,658.73h3.22v3.22h-3.22zM2694.11,658.73h3.22v3.22h-3.22zM2697.08,658.73h3.22v3.22h-3.22zM2703.01,658.73h3.22v3.22h-3.22zM2705.98,658.73h3.22v3.22h-3.22zM2708.94,658.73h3.22v3.22h-3.22zM2711.91,658.73h3.22v3.22h-3.22zM2720.80,658.73h3.22v3.22h-3.22zM2726.73,658.73h3.22v3.22h-3.22z" fill="#1a1a1a"/><path d="M2636.3,589.0 L2636.3,571.5 Q2636.3,567.0 2640.8,567.0 L2658.3,567.0" fill="none" stroke="#3a3a3a" stroke-width="1.5"/><path d="M2715.4,567.0 L2732.9,567.0 Q2737.4,567.0 2737.4,571.5 L2737.4,589.0" fill="none" stroke="#3a3a3a" stroke-width="1.5"/><path d="M2636.3,648.7 L2636.3,666.2 Q2636.3,670.7 2640.8,670.7 L2658.3,670.7" fill="none" stroke="#3a3a3a" stroke-width="1.5"/><path d="M2715.4,670.7 L2732.9,670.7 Q2737.4,670.7 2737.4,666.2 L2737.4,648.7" fill="none" stroke="#3a3a3a" stroke-width="1.5"/></svg>
<div class="t" id="p1h1" style="left:39.94px;top:52.20px;font-size:20.5px;font-weight:700;color:#505050;letter-spacing:0.000px;transform:scaleX(0.9363);transform-origin:0 0">READ AND SAVE THESE INSTRUCTIONS</div>
<div class="t" id="p1h2" style="left:40.20px;top:78.10px;font-size:15.3px;font-weight:700;color:#505050;letter-spacing:0.000px;transform:scaleX(1.0979);transform-origin:0 0">Safety Instructions</div>
<div class="t" id="b1a" style="left:57.28px;top:114.54px;font-size:12.0px;font-weight:400;color:#555555;letter-spacing:-0.007px">This product is rated as IP65 Waterproof. It can be used outdoors but cannot be immersed</div>
<div class="t" id="b1b" style="left:56.48px;top:127.34px;font-size:12.0px;font-weight:400;color:#555555;letter-spacing:0.000px;transform:scaleX(1.0328);transform-origin:0 0">in water.</div>
<div class="t" id="b2a" style="left:57.28px;top:153.34px;font-size:12.0px;font-weight:400;color:#555555;letter-spacing:-0.010px">The power adapter is rated as IP44 Waterproof. It can be used outdoors but cannot be</div>
<div class="t" id="b2b" style="left:56.48px;top:166.14px;font-size:12.0px;font-weight:400;color:#555555;letter-spacing:0.170px">rinsed or immersed in water.</div>
<div class="t" id="b3" style="left:57.28px;top:192.34px;font-size:12.0px;font-weight:400;color:#555555;letter-spacing:0.042px">Tighten up the waterproof cap before installing the Spotlights.</div>
<div class="t" id="b4a" style="left:57.28px;top:218.24px;font-size:12.0px;font-weight:400;color:#555555;letter-spacing:-0.004px">The internal light sources of the light bars and strip light cannot be replaced. If the light</div>
<div class="t" id="b4b" style="left:57.28px;top:231.24px;font-size:12.0px;font-weight:400;color:#555555;letter-spacing:-0.022px">sources sustain damage, the product should be replaced.</div>
<div class="t" id="b5" style="left:56.48px;top:257.84px;font-size:12.0px;font-weight:400;color:#555555;letter-spacing:0.067px">Do not allow children to assemble and install this product without adult supervision.</div>
<div class="t" id="b6" style="left:57.28px;top:283.64px;font-size:12.0px;font-weight:400;color:#555555;letter-spacing:0.011px">Avoid installing this product near major heat sources.</div>
<div class="t" id="b7" style="left:56.48px;top:309.54px;font-size:12.0px;font-weight:400;color:#555555;letter-spacing:0.065px">External dimmers cannot be used with this product.</div>
<div class="t" id="b8" style="left:56.48px;top:335.74px;font-size:12.0px;font-weight:400;color:#555555;letter-spacing:0.109px">Use this product with the provided power adapter only.</div>
<div class="t" id="p1h3" style="left:39.38px;top:378.24px;font-size:19.5px;font-weight:700;color:#505050;letter-spacing:0.000px;transform:scaleX(1.1179);transform-origin:0 0">Introduction</div>
<div class="t" id="in1" style="left:40.00px;top:416.63px;font-size:12.6px;font-weight:400;color:#555555;letter-spacing:-0.111px">Thanks for choosing Govee LED Spotlights. You can use Govee Home App to adjust light color,</div>
<div class="t" id="in2" style="left:40.00px;top:429.23px;font-size:12.6px;font-weight:400;color:#555555;letter-spacing:-0.014px">select modes, and set timers.</div>
<div class="t" id="p1h4" style="left:40.00px;top:471.44px;font-size:19.5px;font-weight:700;color:#505050;letter-spacing:0.000px;transform:scaleX(1.0810);transform-origin:0 0">What You Get</div>
<div class="t" id="pn1" style="left:285.28px;top:787.64px;font-size:12.0px;font-weight:400;color:#555555;letter-spacing:0.000px;transform:scaleX(0.8818);transform-origin:0 0">01</div>
<div class="t" id="p2h1" style="left:634.30px;top:52.04px;font-size:19.8px;font-weight:700;color:#505050;letter-spacing:0.000px;transform:scaleX(1.0371);transform-origin:0 0">At a Glance</div>
<div class="t" id="l_pa" style="left:674.12px;top:137.11px;font-size:11.8px;font-weight:400;color:#555555;letter-spacing:0.450px">Power Adapter</div>
<div class="t" id="l_led" style="left:963.38px;top:91.81px;font-size:11.8px;font-weight:400;color:#555555;letter-spacing:0.154px">LED Spotlights</div>
<div class="t" id="l_cb" style="left:708.64px;top:396.21px;font-size:11.8px;font-weight:400;color:#555555;letter-spacing:0.360px">Control Box</div>
<div class="t" id="p2b1" style="left:649.30px;top:547.01px;font-size:11.8px;font-weight:400;color:#555555;letter-spacing:0.453px">Press to turn the light on and off.</div>
<div class="t" id="p2b2" style="left:649.30px;top:562.91px;font-size:11.8px;font-weight:400;color:#555555;letter-spacing:0.423px">Press twice to switch the light to Illumination Mode.</div>
<div class="t" id="p2b3" style="left:649.30px;top:579.11px;font-size:11.8px;font-weight:400;color:#555555;letter-spacing:0.330px">Press and hold for 5 seconds to reset.</div>
<div class="t" id="pn2" style="left:886.46px;top:787.64px;font-size:12.0px;font-weight:400;color:#555555;letter-spacing:0.000px;transform:scaleX(0.9290);transform-origin:0 0">02</div>
<div class="t" id="p3h1" style="left:1229.94px;top:52.17px;font-size:20.0px;font-weight:700;color:#505050;letter-spacing:0.000px;transform:scaleX(1.0427);transform-origin:0 0">Installing Your Spotlights</div>
<div class="t" id="p3h2" style="left:1249.66px;top:78.16px;font-size:16.0px;font-weight:400;color:#4a4a4a;letter-spacing:0.000px;transform:scaleX(1.0989);transform-origin:0 0">Installing Your Spotlights on the ground</div>
<div class="t" id="s1" style="left:1231.20px;top:117.24px;font-size:12.0px;font-weight:400;color:#555555;letter-spacing:0.644px">1. Attach the 2 LED Spotlight to the control cable. Tighten the waterproof cable protector.</div>
<div class="t" id="n1a" style="left:1229.94px;top:346.24px;font-size:12.0px;font-weight:400;color:#555555;letter-spacing:0.276px"><b>Note:</b> Only when all two lights are attached on the control cable can this device</div>
<div class="t" id="n1b" style="left:1268.10px;top:359.14px;font-size:12.0px;font-weight:400;color:#555555;letter-spacing:0.518px">function properly.</div>
<div class="t" id="s2" style="left:1231.00px;top:387.74px;font-size:12.0px;font-weight:400;color:#555555;letter-spacing:0.203px">2. Attach a ground stake to the stand of each LED Spotlights.</div>
<div class="t" id="n2a" style="left:1230.66px;top:403.64px;font-size:12.0px;font-weight:400;color:#555555;letter-spacing:0.295px"><b>Note:</b> If you plan to install this product on very hard ground, please separately purchase</div>
<div class="t" id="n2b" style="left:1269.00px;top:416.54px;font-size:12.0px;font-weight:400;color:#555555;letter-spacing:0.290px">expansion bolts or metal stakes.</div>
<div class="t" id="pn3" style="left:1482.82px;top:777.64px;font-size:12.0px;font-weight:400;color:#555555;letter-spacing:0.000px;transform:scaleX(1.0000);transform-origin:0 0">03</div>
<div class="t" id="s3a" style="left:1825.46px;top:103.34px;font-size:12.0px;font-weight:400;color:#555555;letter-spacing:0.305px">3. Install each spotlight on the ground and</div>
<div class="t" id="s3b" style="left:1838.10px;top:116.34px;font-size:12.0px;font-weight:400;color:#555555;letter-spacing:0.993px">adjust the angle of its beam.</div>
<div class="t" id="s4" style="left:1826.18px;top:266.84px;font-size:12.0px;font-weight:400;color:#555555;letter-spacing:0.333px">4. Plug the power adapter into power.</div>
<div class="t" id="n4a" style="left:1825.30px;top:282.74px;font-size:12.0px;font-weight:400;color:#555555;letter-spacing:0.300px"><b>Note:</b> Avoid placing the control box directly on the ground, otherwise the Wi-Fi and</div>
<div class="t" id="n4b" style="left:1859.30px;top:295.74px;font-size:12.0px;font-weight:400;color:#555555;letter-spacing:0.368px">Bluetooth connection may be intervened.</div>
<div class="t" id="pn4" style="left:2077.72px;top:777.64px;font-size:12.0px;font-weight:400;color:#555555;letter-spacing:0.000px;transform:scaleX(0.9902);transform-origin:0 0">04</div>
<div class="t" id="qr1" style="left:2636.54px;top:683.88px;font-size:11.3px;font-weight:400;color:#1e1e1e;letter-spacing:0.985px">Govee Home App</div>
<div class="t" id="qr2" style="left:2601.56px;top:714.56px;font-size:10.5px;font-weight:400;color:#666666;letter-spacing:0.655px">For FAQs and more information,</div>
<div class="t" id="qr3" style="left:2601.56px;top:729.26px;font-size:10.5px;font-weight:400;color:#666666;letter-spacing:0.233px">please visit:</div>
<div class="t" id="qr4" style="left:2665.36px;top:728.57px;font-size:12.5px;font-weight:400;color:#444444;letter-spacing:0.750px">www.govee.com</div>
<div class="t" id="tr0" style="left:44.66px;top:519.49px;font-size:11.0px;font-weight:400;color:#555555;letter-spacing:0.733px">Item</div>
<div class="t" id="tr1" style="left:44.66px;top:542.19px;font-size:11.0px;font-weight:400;color:#555555;letter-spacing:0.046px">LED Spotlights</div>
<div class="t" id="tr2" style="left:44.66px;top:565.09px;font-size:11.0px;font-weight:400;color:#555555;letter-spacing:0.000px">Power Cable</div>
<div class="t" id="tr3" style="left:45.46px;top:587.49px;font-size:11.0px;font-weight:400;color:#555555;letter-spacing:-0.050px">Ground Sticks</div>
<div class="t" id="tr4" style="left:44.66px;top:610.19px;font-size:11.0px;font-weight:400;color:#555555;letter-spacing:-0.040px">Screws</div>
<div class="t" id="tr5" style="left:44.66px;top:632.99px;font-size:11.0px;font-weight:400;color:#555555;letter-spacing:0.100px">User Manual</div>
<div class="t" id="tr6" style="left:44.66px;top:655.69px;font-size:11.0px;font-weight:400;color:#555555;letter-spacing:-0.091px">Service Card</div>
<div class="t" id="tq0" style="left:405.36px;top:519.49px;font-size:11.0px;font-weight:400;color:#555555;letter-spacing:0.429px">Quantity</div>
<div class="t" id="tq1" style="left:423.46px;top:542.19px;font-size:11.0px;font-weight:400;color:#555555;letter-spacing:0.000px;transform:scaleX(1.0855);transform-origin:0 0">2</div>
<div class="t" id="tq2" style="left:423.66px;top:565.09px;font-size:11.0px;font-weight:400;color:#555555;letter-spacing:0.000px;transform:scaleX(0.8408);transform-origin:0 0">1</div>
<div class="t" id="tq3" style="left:423.46px;top:587.49px;font-size:11.0px;font-weight:400;color:#555555;letter-spacing:0.000px;transform:scaleX(1.0855);transform-origin:0 0">2</div>
<div class="t" id="tq4" style="left:423.46px;top:610.19px;font-size:11.0px;font-weight:400;color:#555555;letter-spacing:0.000px;transform:scaleX(1.0855);transform-origin:0 0">2</div>
<div class="t" id="tq5" style="left:423.66px;top:632.99px;font-size:11.0px;font-weight:400;color:#555555;letter-spacing:0.000px;transform:scaleX(0.8408);transform-origin:0 0">1</div>
<div class="t" id="tq6" style="left:423.66px;top:655.69px;font-size:11.0px;font-weight:400;color:#555555;letter-spacing:0.000px;transform:scaleX(0.8408);transform-origin:0 0">1</div>
</body></html>
